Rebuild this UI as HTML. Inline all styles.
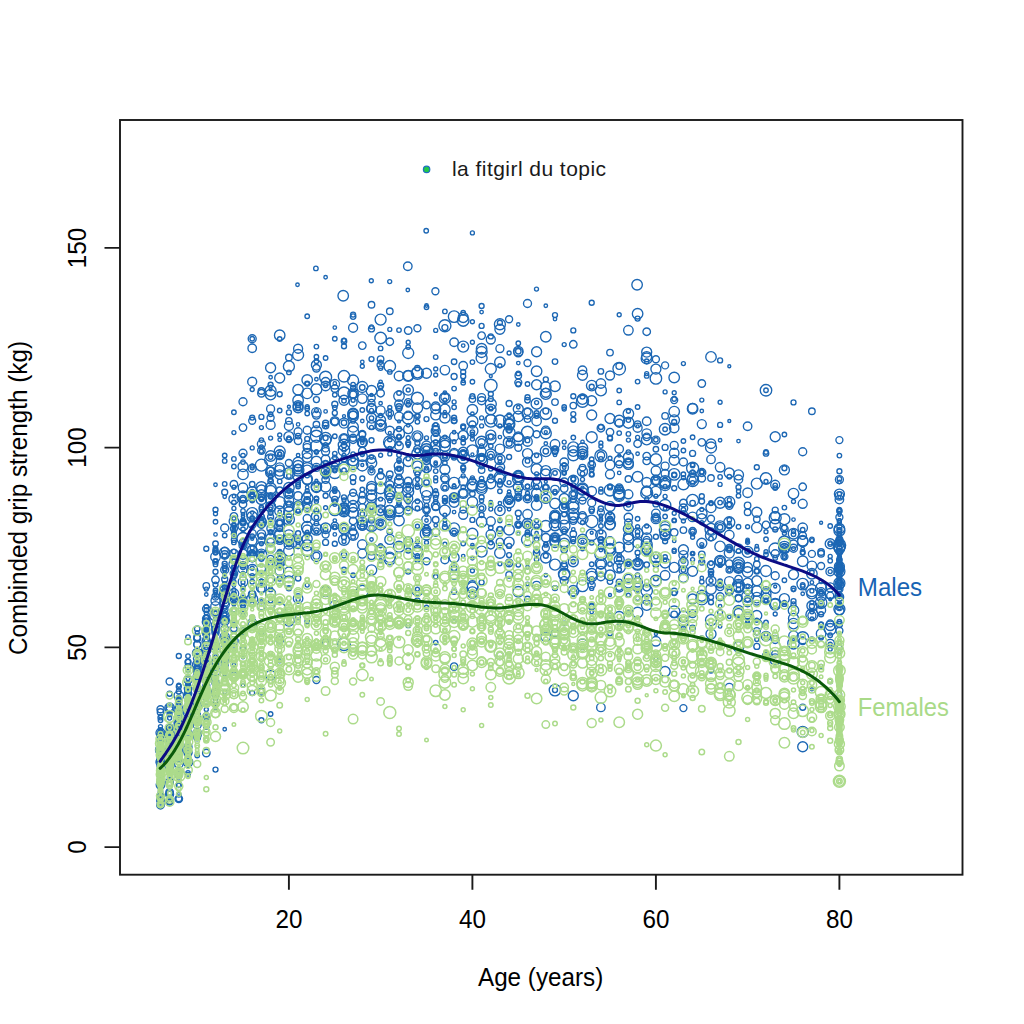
<!DOCTYPE html>
<html><head><meta charset="utf-8"><style>
html,body{margin:0;padding:0;background:#fff;}
svg{display:block;font-family:"Liberation Sans",sans-serif;}
</style></head><body>
<svg width="1024" height="1024" viewBox="0 0 1024 1024">
<defs>
<marker id="f10" markerUnits="userSpaceOnUse" markerWidth="1" markerHeight="1" overflow="visible"><circle r="2.50" fill="none" stroke="#acdb8b" stroke-width="1.5"/></marker>
<marker id="f11" markerUnits="userSpaceOnUse" markerWidth="1" markerHeight="1" overflow="visible"><circle r="2.75" fill="none" stroke="#acdb8b" stroke-width="1.5"/></marker>
<marker id="f12" markerUnits="userSpaceOnUse" markerWidth="1" markerHeight="1" overflow="visible"><circle r="3.00" fill="none" stroke="#acdb8b" stroke-width="1.5"/></marker>
<marker id="f13" markerUnits="userSpaceOnUse" markerWidth="1" markerHeight="1" overflow="visible"><circle r="3.25" fill="none" stroke="#acdb8b" stroke-width="1.5"/></marker>
<marker id="f14" markerUnits="userSpaceOnUse" markerWidth="1" markerHeight="1" overflow="visible"><circle r="3.50" fill="none" stroke="#acdb8b" stroke-width="1.5"/></marker>
<marker id="f15" markerUnits="userSpaceOnUse" markerWidth="1" markerHeight="1" overflow="visible"><circle r="3.75" fill="none" stroke="#acdb8b" stroke-width="1.5"/></marker>
<marker id="f16" markerUnits="userSpaceOnUse" markerWidth="1" markerHeight="1" overflow="visible"><circle r="4.00" fill="none" stroke="#acdb8b" stroke-width="1.5"/></marker>
<marker id="f17" markerUnits="userSpaceOnUse" markerWidth="1" markerHeight="1" overflow="visible"><circle r="4.25" fill="none" stroke="#acdb8b" stroke-width="1.5"/></marker>
<marker id="f18" markerUnits="userSpaceOnUse" markerWidth="1" markerHeight="1" overflow="visible"><circle r="4.50" fill="none" stroke="#acdb8b" stroke-width="1.5"/></marker>
<marker id="f19" markerUnits="userSpaceOnUse" markerWidth="1" markerHeight="1" overflow="visible"><circle r="4.75" fill="none" stroke="#acdb8b" stroke-width="1.5"/></marker>
<marker id="f20" markerUnits="userSpaceOnUse" markerWidth="1" markerHeight="1" overflow="visible"><circle r="5.00" fill="none" stroke="#acdb8b" stroke-width="1.5"/></marker>
<marker id="f21" markerUnits="userSpaceOnUse" markerWidth="1" markerHeight="1" overflow="visible"><circle r="5.25" fill="none" stroke="#acdb8b" stroke-width="1.5"/></marker>
<marker id="f22" markerUnits="userSpaceOnUse" markerWidth="1" markerHeight="1" overflow="visible"><circle r="5.50" fill="none" stroke="#acdb8b" stroke-width="1.5"/></marker>
<marker id="f23" markerUnits="userSpaceOnUse" markerWidth="1" markerHeight="1" overflow="visible"><circle r="5.75" fill="none" stroke="#acdb8b" stroke-width="1.5"/></marker>
<marker id="f24" markerUnits="userSpaceOnUse" markerWidth="1" markerHeight="1" overflow="visible"><circle r="6.00" fill="none" stroke="#acdb8b" stroke-width="1.5"/></marker>
<marker id="f25" markerUnits="userSpaceOnUse" markerWidth="1" markerHeight="1" overflow="visible"><circle r="6.25" fill="none" stroke="#acdb8b" stroke-width="1.5"/></marker>
<marker id="f26" markerUnits="userSpaceOnUse" markerWidth="1" markerHeight="1" overflow="visible"><circle r="6.50" fill="none" stroke="#acdb8b" stroke-width="1.5"/></marker>
<marker id="f6" markerUnits="userSpaceOnUse" markerWidth="1" markerHeight="1" overflow="visible"><circle r="1.50" fill="none" stroke="#acdb8b" stroke-width="1.5"/></marker>
<marker id="f7" markerUnits="userSpaceOnUse" markerWidth="1" markerHeight="1" overflow="visible"><circle r="1.75" fill="none" stroke="#acdb8b" stroke-width="1.5"/></marker>
<marker id="f8" markerUnits="userSpaceOnUse" markerWidth="1" markerHeight="1" overflow="visible"><circle r="2.00" fill="none" stroke="#acdb8b" stroke-width="1.5"/></marker>
<marker id="f9" markerUnits="userSpaceOnUse" markerWidth="1" markerHeight="1" overflow="visible"><circle r="2.25" fill="none" stroke="#acdb8b" stroke-width="1.5"/></marker>
<marker id="m10" markerUnits="userSpaceOnUse" markerWidth="1" markerHeight="1" overflow="visible"><circle r="2.50" fill="none" stroke="#1c67b4" stroke-width="1.35"/></marker>
<marker id="m11" markerUnits="userSpaceOnUse" markerWidth="1" markerHeight="1" overflow="visible"><circle r="2.75" fill="none" stroke="#1c67b4" stroke-width="1.35"/></marker>
<marker id="m12" markerUnits="userSpaceOnUse" markerWidth="1" markerHeight="1" overflow="visible"><circle r="3.00" fill="none" stroke="#1c67b4" stroke-width="1.35"/></marker>
<marker id="m13" markerUnits="userSpaceOnUse" markerWidth="1" markerHeight="1" overflow="visible"><circle r="3.25" fill="none" stroke="#1c67b4" stroke-width="1.35"/></marker>
<marker id="m14" markerUnits="userSpaceOnUse" markerWidth="1" markerHeight="1" overflow="visible"><circle r="3.50" fill="none" stroke="#1c67b4" stroke-width="1.35"/></marker>
<marker id="m15" markerUnits="userSpaceOnUse" markerWidth="1" markerHeight="1" overflow="visible"><circle r="3.75" fill="none" stroke="#1c67b4" stroke-width="1.35"/></marker>
<marker id="m16" markerUnits="userSpaceOnUse" markerWidth="1" markerHeight="1" overflow="visible"><circle r="4.00" fill="none" stroke="#1c67b4" stroke-width="1.35"/></marker>
<marker id="m17" markerUnits="userSpaceOnUse" markerWidth="1" markerHeight="1" overflow="visible"><circle r="4.25" fill="none" stroke="#1c67b4" stroke-width="1.35"/></marker>
<marker id="m18" markerUnits="userSpaceOnUse" markerWidth="1" markerHeight="1" overflow="visible"><circle r="4.50" fill="none" stroke="#1c67b4" stroke-width="1.35"/></marker>
<marker id="m19" markerUnits="userSpaceOnUse" markerWidth="1" markerHeight="1" overflow="visible"><circle r="4.75" fill="none" stroke="#1c67b4" stroke-width="1.35"/></marker>
<marker id="m20" markerUnits="userSpaceOnUse" markerWidth="1" markerHeight="1" overflow="visible"><circle r="5.00" fill="none" stroke="#1c67b4" stroke-width="1.35"/></marker>
<marker id="m21" markerUnits="userSpaceOnUse" markerWidth="1" markerHeight="1" overflow="visible"><circle r="5.25" fill="none" stroke="#1c67b4" stroke-width="1.35"/></marker>
<marker id="m22" markerUnits="userSpaceOnUse" markerWidth="1" markerHeight="1" overflow="visible"><circle r="5.50" fill="none" stroke="#1c67b4" stroke-width="1.35"/></marker>
<marker id="m23" markerUnits="userSpaceOnUse" markerWidth="1" markerHeight="1" overflow="visible"><circle r="5.75" fill="none" stroke="#1c67b4" stroke-width="1.35"/></marker>
<marker id="m24" markerUnits="userSpaceOnUse" markerWidth="1" markerHeight="1" overflow="visible"><circle r="6.00" fill="none" stroke="#1c67b4" stroke-width="1.35"/></marker>
<marker id="m25" markerUnits="userSpaceOnUse" markerWidth="1" markerHeight="1" overflow="visible"><circle r="6.25" fill="none" stroke="#1c67b4" stroke-width="1.35"/></marker>
<marker id="m26" markerUnits="userSpaceOnUse" markerWidth="1" markerHeight="1" overflow="visible"><circle r="6.50" fill="none" stroke="#1c67b4" stroke-width="1.35"/></marker>
<marker id="m6" markerUnits="userSpaceOnUse" markerWidth="1" markerHeight="1" overflow="visible"><circle r="1.50" fill="none" stroke="#1c67b4" stroke-width="1.35"/></marker>
<marker id="m7" markerUnits="userSpaceOnUse" markerWidth="1" markerHeight="1" overflow="visible"><circle r="1.75" fill="none" stroke="#1c67b4" stroke-width="1.35"/></marker>
<marker id="m8" markerUnits="userSpaceOnUse" markerWidth="1" markerHeight="1" overflow="visible"><circle r="2.00" fill="none" stroke="#1c67b4" stroke-width="1.35"/></marker>
<marker id="m9" markerUnits="userSpaceOnUse" markerWidth="1" markerHeight="1" overflow="visible"><circle r="2.25" fill="none" stroke="#1c67b4" stroke-width="1.35"/></marker>
<clipPath id="cp"><rect x="120" y="120" width="842.5" height="754.7"/></clipPath>
</defs>
<rect width="1024" height="1024" fill="#fff"/>
<g fill="none" stroke="none" clip-path="url(#cp)">
<path d="M252.2 538.8 701.8 560.9 197.2 674.4 729.3 421 830.2 599.2 160.5 755.1 839.4 497.1 325.6 427 371.5 394.9 160.5 777 243 590.4 188 703.1 197.2 688.5 399 421.4 490.8 376.1 509.1 503 215.5 656.4 362.3 465 206.3 671.7 169.6 733.1 619.2 455.6" marker-start="url(#m6)" marker-mid="url(#m6)" marker-end="url(#m6)"/>
<path d="M463.2 556.1 261.4 511.4 729.3 570.3 600.9 550 811.9 618.7 729.3 523.3 463.2 470.7 243 685.6 509.1 491.8 233.9 665.1 839.4 583.8 334.8 327.6 591.7 612 334.8 527.6 252.2 512.6 178.8 733.2 564.2 447.8 499.9 461.8 325.6 277.2 610 513 747.6 541.3 316.4 379.3 215.5 534.4 233.9 585.6 509.1 563.5 839.4 530.7 720.1 626.4 252.2 519.6 435.7 525.2 637.6 559.6 472.4 545.3 665.1 508.6 756.8 546.3 334.8 520.6 371.5 539.5 527.5 526.1 188 678.8 738.5 441.1 279.7 453.8 325.6 411.4 747.6 539.9 839.4 595.1 701.8 411 188 671 839.4 556.4 160.5 778.2 307.2 487.3 206.3 594.5 169.6 748.6 518.3 363.1 481.6 312.1 224.7 639.3 720.1 606.3 298.1 424.4 160.5 779.6 197.2 694.3 665.1 560.3 509.1 440 371.5 471 499.9 480.5 252.2 527.6 243 633.3 518.3 533.6 197.2 679.6 408.2 425.2 380.6 425.1 270.6 377.3" marker-start="url(#m7)" marker-mid="url(#m7)" marker-end="url(#m7)"/>
<path d="M839.4 652.2 197.2 699.4 435.7 424.6 169.6 734.5 628.4 440.1 490.8 476.2 270.6 438.1 435.7 480.9 481.6 425.9 426.5 542.5 160.5 776.9 582.5 522.5 233.9 518.6 261.4 447 472.4 434.3 206.3 672.8 334.8 502 692.6 533.9 261.4 543.7 646.7 499 344 529.5 160.5 796.8 591.7 588.4 353.1 400.2 435.7 375 252.2 491.4 536.6 402.6 839.4 568.5 775.2 614 454.1 495.1 252.2 553.5 444.9 520.1 637.6 526.8 344 500 325.6 385.6 169.6 779.9 454.1 401.9 509.1 353 169.6 746 582.5 479.4 509.1 622.1 444.9 515.2 701.8 544.6 408.2 390 499.9 509.3 766 600.1 389.8 407.5 665.1 486.5 444.9 524.2 839.4 562.8 215.5 592.1 417.4 526.2 197.2 632.7 380.6 387.7 197.2 670 261.4 451.2 362.3 454.5 169.6 749.6 839.4 557.3 839.4 596.6 811.9 602.6 325.6 476.9 307.2 490.8 206.3 613.1 279.7 660.8 490.8 456.2 830.2 644.2 160.5 748.7 711 573.3 766 634.2 747.6 550.9 573.3 541.7 316.4 410.6 839.4 533.1 279.7 577.3 215.5 701.9 591.7 474.4 261.4 584.1 224.7 674 206.3 659.8 389.8 477.6 197.2 707.6 490.8 509.1 747.6 622.8 692.6 464.8 288.9 437.9 444.9 400.2 380.6 560.7 454.1 486.4 188 670.4 417.4 589.2 692.6 537.3 472.4 342.3 371.5 427.4 600.9 538.6 839.4 493.9 426.5 437.9 747.6 542.2 188 682.8 408.2 444.3 160.5 765.7 444.9 415.9 243 519.8 600.9 446.2 426.5 527.1 490.8 408.2 793.5 640.6 536.6 455.6 178.8 738.9 178.8 715.3 472.4 321.8 224.7 593.3 646.7 373.6 178.8 712.6 481.6 417.9 371.5 326.9 261.4 498.3 555 493.1 784.4 602.5 490.8 505.2 243 609.6 536.6 473.9 839.4 551.4 178.8 759.4 830.2 649.1 839.4 581.1 224.7 655.8 160.5 766.4 233.9 530.3 536.5 289.1 839.4 520.7 628.4 411.3 683.4 521 178.8 732.1 307.2 585.1 766 652.8 197.2 698.5" marker-start="url(#m8)" marker-mid="url(#m8)" marker-end="url(#m8)"/>
<path d="M362.3 439.7 252.2 575.9 518.3 524.6 188 702.3 288.9 372.4 536.6 487.2 536.6 559.2 444.9 501.6 444.9 462.9 233.9 458.9 261.4 499.3 325.6 358 839.4 559.5 399 393 188 772.9 261.4 553.2 233.9 466.5 334.8 526.6 206.3 654.2 215.5 521.8 224.7 460.9 619.2 390.5 481.6 478.6 206.3 679 591.7 459.3 600.9 526 582.5 473.6 756.8 549.3 325.6 462.8 720.1 502.6 206.3 606.6 784.4 556.1 233.9 593.8 197.2 685.8 472.4 362.1 564.2 623.4 463.2 442.8 160.5 759.5 821.1 592.9 766 452 334.8 489 279.7 481.4 720.1 476.9 353.1 420.9 316.4 498.8 261.4 581.5 160.5 783.7 178.8 756.6 417.4 421.7 215.5 641 711 503 160.5 764.8 408.2 347 188 688.1 417.4 556 178.8 754.2 545.8 544.9 243 599.4 527.5 460.9 417.4 508.2 224.7 565.9 417.4 501.3 288.9 475.9 435.7 501.7 325.6 445 316.4 498.5 518.3 373.4 628.4 612.8 426.5 307.3 766 554.5 564.2 531.3 261.4 600.4 252.2 338.7 233.9 536 555 491.8 325.6 529.8 224.7 583.9 307.2 534.5 720.1 565.1 389.8 486.7 839.4 531.1 334.8 490.9 224.7 597.9 178.8 731.9 298.1 546.2 610 486.2 178.8 740.1 215.5 688.1 380.6 415.6 279.7 410.5 334.8 470 261.4 507.5 655.9 477.9 426.5 505.5 334.8 457.5 628.4 433.9 316.4 361.2 178.8 741.1 362.3 514 279.7 339 600.9 458.9 315.9 268.4 188 656.1 307.2 475.5 490.8 527.8 674.2 520.4 215.5 590.5 380.6 348.4 839.4 694.3 316.4 484.7 839.4 562.4 802.7 529.7 536.6 498.4 334.8 338.7 178.8 734.4 243 544.7 178.8 719.8 738.5 551 435.7 442.3 784.4 580.2 444.9 311.4 555 473 463.2 427.4 527.5 384 197.2 697.4 839.4 589.5 334.8 394.8 215.5 665.2 188 738.4 344 509.2 426.2 230.7 334.8 607.2 243 510.9 233.9 532.4 206.3 702 169.6 802 784.4 507.6 353.1 527.4 830.2 681.4 628.4 504.7 298.1 617 206.3 649.8 243 455.6 839.4 604 463.2 312.8 637.6 381.6 399 455 252.2 500.5 206.3 660 839.4 621.7 215.5 622.4 215.5 549.8 444.9 487.7 380.6 368.1 270.6 513.1 215.5 548.2 766 390.3 197.2 703.9 160.5 753.9" marker-start="url(#m9)" marker-mid="url(#m9)" marker-end="url(#m9)"/>
<path d="M233.9 534 160.5 779 839.4 530 555 420.7 573.3 396.3 729.3 526.3 793.5 402.4 490.8 436.6 573.3 330.4 811.9 606.3 674.2 475.3 573.3 485.4 555 588.1 169.6 751 288.9 412.4 371.5 527.7 573.3 478.6 206.3 657.1 252.2 494.5 206.3 548.8 362.3 478.5 610 633.2 261.4 720.3 288.9 519.5 591.7 474.5 821.1 614.2 509.1 457 665.1 541.3 206.3 630.5 334.8 543.8 738.5 565.4 344 569.7 188 736.6 224.7 555.8 243 610.2 160.5 760.9 839.4 510.5 738.5 487.2 206.3 691.8 839.4 571.9 674.2 474.6 839.4 538 720.1 585.4 261.4 521.1 353.1 387.9 362.3 438.8 610 487.4 206.3 627.2 243 521.7 224.7 563.7 573.3 419.8 160.5 730.1 821.1 624.9 160.5 717.4 490.8 394 720.1 612.3 224.7 568.1 738.5 585.1 252.2 617.7 555 538.2 610 437.7 711 597.2 169.6 761 692.6 531.5 454.1 591.8 279.7 552.7 720.1 560.6 784.4 548.2 270.6 563.1 169.6 693.7 536.6 415.8 527.5 534.6 298.1 407.6 344 537.2 224.7 600.9 188 661.7 435.7 451 839.4 547.3 270.6 507.3 243 522.9 417.4 559.8 564.2 506.8 720.1 424.9 288.9 588.3 509.1 555.1 600.9 427 215.5 571.8 188 702.3 720.1 360.4 307.2 438.9 444.9 501 160.5 762.1 674.2 488.2 178.8 738.4 711 602.3" marker-start="url(#m10)" marker-mid="url(#m10)" marker-end="url(#m10)"/>
<path d="M444.9 456.4 206.3 634.7 178.8 759.5 720.1 527.3 839.4 647.8 178.8 734.8 454.1 568 747.6 551.2 711 670.3 233.9 576.1 701.8 501.3 756.8 571.3 655.9 449.3 628.4 526.2 711 571.8 555 451.9 252.2 484.2 766 453.4 206.3 617.9 243 499.8" marker-start="url(#m11)" marker-mid="url(#m11)" marker-end="url(#m11)"/>
<path d="M160.5 743.4 224.7 639 261.4 497.2 518.3 513.3 261.4 517 178.8 798.8 160.5 785.3 756.8 646.4 444.9 327.6 619.2 582.1 545.8 411.1 509.1 443.3 821.1 604.3 839.4 624.5 435.7 433.4 169.6 802 325.6 542.4 454.1 376.5 270.6 516.9 344 458.9 160.5 734.1 252.2 596.8 591.7 606.3 224.7 492.2 197.2 677 353.1 477.6 160.5 762.3 325.6 423.3" marker-start="url(#m12)" marker-mid="url(#m12)" marker-end="url(#m12)"/>
<path d="M197.2 737.6 756.8 519.1 399 497.5 316.4 424.5 637.6 424.1 729.3 547.8 472.4 399.1 288.9 420.9 169.6 743.8 362.3 434.5 389.8 474.3 536.6 552.7 261.4 536.1 160.5 739.9 729.3 569.8 197.2 637.4 610 352.6 334.8 499.6 738.5 598.3 160.5 775.7 811.9 411.3 178.8 739.0" marker-start="url(#m13)" marker-mid="url(#m13)" marker-end="url(#m13)"/>
<path d="M426.5 533.4 298.1 539 472.4 481.3 655.9 516.8 215.5 632.9 243 598.8 206.3 685.8 334.8 466.6 224.7 616.3 435.7 426.4 444.9 479.4 307.2 507.9 518.3 524.5 435.4 291.3 518.3 382.6 564.2 566.9 830.2 623.4 839.4 551.8 518.3 447.8 169.6 745.3 197.2 638.6 784.4 556.6 178.8 707.4 325.6 474.4 215.5 647.1 252.2 497.9 233.9 528.8 325.6 534.5 518.3 475 536.6 434.2 426.5 561.3 619.2 464.3 353.1 492.7 224.7 665.6 344 438.1 261.4 540.5 490.8 479.2 481.6 457.5 380.6 475.8 243 630.5 545.8 487.7 325.6 448.4 527.5 363 252.2 420.7 564.2 530.4 224.7 550.6 683.4 708.1 674.2 400.1 756.8 631.1 509.1 500.8 839.4 539.6 169.6 681.5" marker-start="url(#m14)" marker-mid="url(#m14)" marker-end="url(#m14)"/>
<path d="M389.8 413.2 206.3 663 188 733 564.2 488.5 371.5 398.1 169.6 733.7 646.7 587.2 178.8 722.6 353.1 531.9 380.6 393.2 362.3 345.6 169.6 741.9 408.2 481 243 504.2 197.2 658.3 288.9 493.7 692.6 613.8 518.3 474.1 261.4 524.2 426.5 405 720.1 586.9 582.5 515.4 389.8 341.7 233.9 627.8 325.6 479.6 839.4 568.1 197.2 705.2 261.4 393.3 188 688.3 270.6 528.4 674.2 532.5 206.3 650.9 490.8 545.2 160.5 799.7 334.8 525.9 169.6 740.9 646.7 460.9 252.2 594.1 206.3 753 766 524.9" marker-start="url(#m15)" marker-mid="url(#m15)" marker-end="url(#m15)"/>
<path d="M619.2 423.3 701.8 472.5 435.7 532.3 307.2 445.3 444.9 559.8 454.1 497.9 252.2 338.7 408.2 510.3 243 545.4 353.1 402.2 169.6 735.7 665.1 466.1 197.2 725 665.1 473.5 188 706.7 197.2 676.2 775.2 639.5 243 542.7 270.6 578.9 839.4 479.6 243 401.7 169.6 728.8 261.4 444.1 197.2 688.6 353.1 415.2 206.3 622 655.9 440.1 224.7 619.7 591.7 502.7 839.4 570.7" marker-start="url(#m16)" marker-mid="url(#m16)" marker-end="url(#m16)"/>
<path d="M555 515.7 564.2 462.2 545.8 430.4 261.4 568.8 325.6 459.3 573.3 494.6 600.9 707.4 555 489.6 610 617.1 160.5 750.9 169.6 735.2 564.2 467.5 407.8 266.2 344 507.6 224.7 639.2 353.1 394 435.7 406.3 399 470.5 261.4 534.1 279.7 562.9 371.5 459.3 619.2 449 252.2 348.3 298.1 496 399 446.0" marker-start="url(#m17)" marker-mid="url(#m17)" marker-end="url(#m17)"/>
<path d="M637.6 543.2 288.9 425.9 821.1 610.2 270.6 424.9 756.8 600.6 600.9 564.2 325.6 471.5 738.5 613 738.5 548.5 408.2 498.3 270.6 548.4 545.8 498.8 839.4 585.1 334.8 421.2 408.2 541.3 454.1 574.9 637.6 587.5 252.2 381.7 252.2 623.1 279.7 454.3 646.7 549.8 399 508.9" marker-start="url(#m18)" marker-mid="url(#m18)" marker-end="url(#m18)"/>
<path d="M674.2 428 600.9 383.5 169.6 707.8 766 636.2 463.2 480.9 298.1 598.5 720.1 467.3 720.1 561.3 426.5 519.9 279.7 520.7 279.7 454.8 279.7 539.6 270.6 675.3 334.8 461.5 252.2 625.7 555 444.3 307.2 504.1 389.8 515.2 637.6 582.3 426.5 495.4 536.6 421 325.6 386 444.9 370.1 224.7 649.6 655.9 641.3 252.2 556.9 747.6 492.7 518.3 436.8 316.4 412.4 279.7 474.6 811.9 565.9 399 376 224.7 604 188 719.3 646.7 529.5" marker-start="url(#m19)" marker-mid="url(#m19)" marker-end="url(#m19)"/>
<path d="M821.1 596.5 655.9 369.1 270.6 367.7 435.7 408.7 261.4 490 536.6 384.8 408.2 375.7 830.2 543.8 628.4 464.4 371.5 418.1 344 400.3 270.6 506.9 243 525.7 564.2 507.3 518.3 487 729.3 473 224.7 589.9 738.5 474.9 610 548.5 545.8 470.6 270.6 472.4 738.5 587.3 389.8 539.4 591.7 400.8 261.4 522.5 362.3 441.9 307.2 470.1 454.1 557.6 316.4 487.6 766 593.7 793.5 618.4 490.8 435.1 417.4 550.4 628.4 528.9 472.4 486.8 435.7 414.9 426.5 456 215.5 670.6 499.9 329.2 362.3 525.2 573.3 561.8 288.9 436.6 619.2 559.7 564.2 498.5 775.2 436.7 463.2 452.2" marker-start="url(#m20)" marker-mid="url(#m20)" marker-end="url(#m20)"/>
<path d="M839.4 528.6 298.1 507.9 408.2 389.9 499.9 362.3 802.7 561.3 793.5 623.6 325.6 469.8 646.7 439.6 756.8 527.6 371.5 390.7 711 589 545.8 336.8 499.9 459.5 472.4 409.8 371.5 495.2 665.1 485.4 527.5 523.8 692.6 408.7 353.1 535.1 316.4 486.4 389.8 510.6 637.6 313.7 784.4 548.6 408.2 487.9 720.1 546.4 243 568.2 288.9 535.1 573.3 480.5 793.5 533.8 555 386.3 655.9 491.6 555 515.4 610 575.2 536.6 458.2 288.9 512 252.2 551 839.4 548.2 307.2 380 747.6 583.4 353.1 512.7 344 528.7 811.9 573.7" marker-start="url(#m21)" marker-mid="url(#m21)" marker-end="url(#m21)"/>
<path d="M545.8 433.3 711 620.1 252.2 599.1 316.4 389.3 646.7 547.6 637.6 564 573.3 591 399 546.8 380.6 488.3 481.6 551.6 279.7 561.8 288.9 519.4 316.4 431.4 344 539.8 417.4 372.4 711 535.4 591.7 574 408.2 375.9 490.8 404.1 298.1 475.6 701.8 595.7 444.9 398.2 766 571 270.6 498.3 573.3 455.3 619.2 547.7 472.4 533.8 444.9 445.8 261.4 487.2 747.6 551.9 344 511.3 353.1 380.5 417.4 453.4 655.9 580.7 472.4 431 536.6 532.6 738.5 567.8 555 517.8 408.2 491.8 490.8 454.5 252.2 556.1" marker-start="url(#m22)" marker-mid="url(#m22)" marker-end="url(#m22)"/>
<path d="M665.1 481.4 279.7 608.4 353.1 463.8 674.2 474.4 344 376.3 344 445 518.3 478.9 371.5 549.1 665.1 530.2 564.2 574 738.5 586.6 454.1 483.1 472.4 484.7 655.9 459.5 610 490.2 545.8 526.2 389.8 366.3 344 450.3 756.8 625.1 555 690.1 444.9 441.8" marker-start="url(#m23)" marker-mid="url(#m23)" marker-end="url(#m23)"/>
<path d="M701.8 598.9 692.6 480.6 417.4 373.2 499.9 421 481.6 461.3 325.6 377.2 307.2 468.6 270.6 459.9 600.9 554.4" marker-start="url(#m24)" marker-mid="url(#m24)" marker-end="url(#m24)"/>
<path d="M490.8 385.5 619.2 368.7 344 644.3 839.4 545.2 426.5 533.7 775.2 549.3" marker-start="url(#m25)" marker-mid="url(#m25)" marker-end="url(#m25)"/>
<path d="M821.1 522.7 701.8 546.5 720.1 565.7 729.3 366.2 389.8 432.9 582.5 541.6 692.6 553.2 444.9 502.6 839.4 605.6 655.9 634 188 708.8 233.9 601.4 215.5 668.7 334.8 491.7 233.9 649.6 499.9 472 582.5 457.3 169.6 753.1 839.4 514.8 811.9 689.2 582.5 487.6 270.6 472.1 288.9 406.7 619.2 624.1 610 595.0" marker-start="url(#m6)" marker-mid="url(#m6)" marker-end="url(#m6)"/>
<path d="M224.7 496.7 362.3 442.7 215.5 596.5 298.1 455.2 316.4 467 334.8 383.4 297.5 284.7 555 454.9 188 692 619.2 472.9 160.5 791.5 454.1 432.3 417.4 415.7 839.4 642.4 426.5 459.5 362.3 522.6 701.8 578 674.2 520.5 499.9 503.3 509.1 509.2 426.5 305.5 536.6 533.3 279.7 439.7 545.8 443.5 169.6 742.8 380.6 403.2 545.8 305.8 169.6 715.1 720.1 440.2 233.9 527.7 518.3 517.9 839.4 587.7 564.2 467.4 793.5 590 270.6 532.2 435.7 462.8 178.8 729.5 325.6 471.8 334.8 534.4 747.6 621 243 516.5 600.9 515.7 380.6 381.9 839.4 573.3 197.2 703.5 802.7 593.8 178.8 717.6 555 319.1 224.7 576.7 408.2 402.2 545.8 575.3 188 716.2 288.9 521.6 839.4 562.2 407.8 290 215.5 560.9 527.5 584 802.7 549.1 454.1 512.1 233.9 581.1 527.5 567.2 573.3 529.4 233.9 671.4 298.1 404.3 288.9 491.5 463.2 345.6 243 514.2 793.5 519.6 628.4 563.2" marker-start="url(#m7)" marker-mid="url(#m7)" marker-end="url(#m7)"/>
<path d="M160.5 731.7 252.2 547.9 711 503.5 215.5 513.7 747.6 526.8 160.5 731 169.6 738.5 316.4 451.6 784.4 550.3 197.2 720.5 481.6 445.9 545.8 499.5 169.6 718.1 371.5 457.2 389.8 329.4 362.3 366.3 701.8 509.4 793.5 501.5 215.5 647.8 160.5 765.7 839.4 542.6 197.2 679.6 784.4 557.7 793.5 531.5 389.7 281.6 279.7 558 261.4 581.2 426.5 607.2 811.9 590.9 472.4 439.1 600.9 531.9 665.1 534.8 178.8 696.9 619.2 314.8 665.1 496.4 298.1 511 224.7 608.3 270.6 479.7 279.7 435 380.6 499.1 839.4 543.2 766 481.5 233.9 620.4 233.9 590.1 665.1 478.9 206.3 709.5 206.3 641 435.7 369 243 582.3 472.4 232.9 380.6 362.3 178.8 685.2 380.6 455.2 206.3 715.7 674.2 550.1 389.8 453.9 463.2 439.3 215.5 627.1 839.4 522.6 444.9 455.7 206.3 651.7 252.2 466 399 504.9 270.6 519.8 600.9 443 444.9 437.1 701.8 522.7 298.1 599.4 188 761.1 655.9 496.2 261.4 427.6 738.5 491.2 701.8 472.1 683.4 477.8 178.8 703.5 793.5 548.6 224.7 692.1 839.4 578.7 169.6 741 839.4 576.6 233.9 596.9 766 551.7 233.9 593.1 426.5 455.2 426.5 468.1 178.8 753.8 233.9 566.5 215.5 707.6 252.2 494.9 509.1 425.5 270.6 497 169.6 729.5 454.1 441.7 518.3 498.9 802.7 553 674.2 392.7 637.6 562.9 600.9 489 839.4 520.7 206.3 696.8 536.6 520.7 582.5 548.7 564.2 409 389.8 511.7 371.3 280.8 215.5 592.7 610 458.2 188 728.2 839.4 559.2 499.9 426 720.1 402.3 564.2 473.2 545.8 543.9 408.2 342.3 839.4 575.6 655.9 659 380.6 470.9 188 718.4 674.2 513.2 701.8 400.1 316.4 501.4 334.8 504.3" marker-start="url(#m8)" marker-mid="url(#m8)" marker-end="url(#m8)"/>
<path d="M224.7 590 334.8 407.6 408.2 625.4 160.5 778.6 600.9 491.9 399 330.1 362.3 489.5 252.2 536.3 224.7 483.9 334.8 501.1 499.9 471.1 334.8 453.6 839.4 539.7 683.4 509.8 591.7 469.7 261.4 509.1 307.2 413.5 270.6 414.3 316.4 356.7 188 765 545.8 491.5 839.4 552.1 784.4 434.5 564.2 472.1 463.2 452.7 435.7 497.5 224.7 634.8 674.2 593.2 206.3 610 637.6 598.2 224.7 455.5 454.1 497.5 839.4 582.9 582.5 453.4 224.7 535.5 344 400.8 206.3 696.7 224.7 587.1 298.1 484.8 188 774.7 270.6 714 298.1 482.6 279.7 551.6 738.5 589.2 353.1 459.5 224.7 600.5 729.3 548.3 591.7 463.3 243 586.4 628.4 420.1 683.4 627.7 637.6 531.9 197.2 668.3 527.5 534.8 811.9 572.3 665.1 557 637.6 407 399 443.2 692.6 553.6 591.7 578.9 169.6 745.4 729.3 519.7 692.6 482.9 665.1 516.5 463.2 382.8 766 622.5 655.9 556.6 233.9 573.6 821.1 591.5 729.3 504.5 793.5 534.2 811.9 539.4 243 546.5 499.9 491.3 233.9 412.2 536.6 499.2 839.4 586.8 711 538.6 802.7 586.2 499.9 458.3 389.8 371.9 738.5 526.8 197.2 693.9 233.9 502.5 206.3 625.6 334.8 436.2 243 648.3 839.4 542.8 215.5 564.4 619.2 402.4 178.8 785.2 509.1 501.6 270.6 512.6 169.6 779.4 169.6 733.1 279.7 565.8 178.8 719.9 573.3 479.4 756.8 558.9 527.5 486.4 399 469.1 371.5 418.1 160.5 773 215.5 613.5 628.4 452.1 197.2 688.6 830.2 635.2 775.2 557.9 298.1 486.5 435.7 576.7 655.9 439.8 316.4 346.6 279.7 561.8 408.2 501.7 509.1 430.7 160.5 781.5 344 470.3 619.2 433.1 215.5 697.9 243 602.9 279.7 454.4 188 731.6 701.8 581.8 316.4 517.4 821.1 624.1 646.7 375.9 766 539.2 839.4 605 591.7 511.3 233.9 551.4 188 637.1" marker-start="url(#m9)" marker-mid="url(#m9)" marker-end="url(#m9)"/>
<path d="M784.4 468.2 215.5 769.6 188 723.9 371.5 440.3 701.8 496.3 527.5 397.3 564.2 514.3 188 703.1 188 751.3 270.6 496 481.6 306 610 518.7 472.4 519.9 472.4 396.3 555 690.1 839.4 511.2 545.8 487.3 591.7 386.7 756.8 467.2 288.9 544.3 417.4 442.9 160.5 741.5 197.2 681.2 371.5 359.1 472.4 595.8 334.8 412.9 243 605.5 178.8 784.5 224.7 618.4 839.4 548 252.2 417.6 197.2 682.4 206.3 686.3 188 733.8 252.2 693 325.6 495.7 362.3 526.4 637.6 552.8 261.4 416.9 821.1 601.4 261.4 558.7 499.9 322.8 399 429 499.9 529 160.5 733.3 610 438.4 169.6 713.8 270.6 384.8 215.5 647.8 463.2 371.9 839.4 526.8 490.8 398.9 655.9 536.7 711 574.7 215.5 584.6 582.5 396.6 839.4 471.2 802.7 552.3 169.6 752.9 499.9 484.8 518.3 497.3 408.2 571.6 279.7 578.6 454.1 457.6 197.2 675.6 655.9 578.2 178.8 700.1 793.5 604.4 325.6 438.1 279.7 394.3 417.4 474.1" marker-start="url(#m10)" marker-mid="url(#m10)" marker-end="url(#m10)"/>
<path d="M399 477 215.5 656 417.4 416.1 344 445.1 188 698.7 353.1 316.6 197.2 628.8 169.6 755.4 344 422.8 839.4 560 288.9 439.8 610 581.6 344 555.1 215.5 551.5 527.5 498.1 298.1 578.3 692.6 503.1 729.3 549.7 270.6 481.3 600.9 371.4 481.6 458.6 527.5 400.2 564.2 564.2 344 341.2 454.1 420.7 417.4 600.9 600.9 508.8 454.1 420.8 426.5 509.7 692.6 628 206.3 691.7 169.6 758.5 839.4 565 243 566.8 389.8 531.7 316.4 530.6 591.7 606.9 600.9 546.4 490.8 537.4" marker-start="url(#m11)" marker-mid="url(#m11)" marker-end="url(#m11)"/>
<path d="M197.2 714.8 243 564.8 279.7 528.5 527.5 599.2 169.6 752.8 600.9 539.7 188 666.7 334.8 404.2 509.1 403.5 188 662.1 307.2 499.8 665.1 447.4 224.7 579.2 362.3 494.9 178.8 735.3 655.9 503.9 839.4 543.5 775.2 510.1 243 602.9 380.6 385.5" marker-start="url(#m12)" marker-mid="url(#m12)" marker-end="url(#m12)"/>
<path d="M435.7 428.9 518.3 491.7 628.4 479 197.2 704.9 426.5 449.3 665.1 415.9 821.1 553.8 435.7 519.8 224.7 609.3 573.3 405.6 160.5 712 188 723.4 197.2 672.6 756.8 564.3 692.6 473.7 252.2 553.3 371.5 304.7 527.5 524.3 252.2 594 655.9 518.7 701.8 554.4 435.7 507.4 509.1 429.3 188 691.9 169.6 729.6 839.4 568.1 747.6 505.4 582.5 467.6 555 402.1 307.2 500.3 197.2 715.6 573.3 534.0" marker-start="url(#m13)" marker-mid="url(#m13)" marker-end="url(#m13)"/>
<path d="M160.5 801.5 839.4 589.2 178.8 716.9 233.9 629.7 766 655.8 417.4 328.2 169.6 761.6 527.5 411.8 178.8 728.3 316.4 680 582.5 500.5 178.8 774.9 206.3 633.8 362.3 433.9 197.2 669.8 178.8 720.1 839.4 440.1 821.1 566 839.4 517.2 499.9 530.1 197.2 644.6 490.8 454.9 600.9 512.4 169.6 709.5 380.6 364.9 197.2 678.1 674.2 591.8 775.2 654 197.2 698.2 197.2 700.6 270.6 417.7 665.1 365.4 362.3 507.1 206.3 639.4 243 499 261.4 589 197.2 680.4 169.6 794.8 655.9 359.2 811.9 553.9 169.6 707.2" marker-start="url(#m14)" marker-mid="url(#m14)" marker-end="url(#m14)"/>
<path d="M215.5 644.7 463.2 453.4 481.6 483.5 600.9 428.2 646.7 456.1 417.4 436.6 215.5 613.9 683.4 503 298.1 440.8 215.5 693.8 637.6 562.9 417.4 471 509.1 563 261.4 450.5 729.3 505.5 233.9 516.4 839.4 541.2 646.7 331.7 362.3 500.1 692.6 531.3 288.9 538 160.5 783.2 426.5 460.9 252.2 524.7 729.3 563.6 160.5 755.9 206.3 671.5 802.7 640.8 646.7 436.9 610 520.9 279.7 640.1 481.6 335.6 555 449.6 206.3 656.6 573.3 592.3 555 633 160.5 805.2 701.8 442.4 711 565 389.8 513.2 802.7 486.8 169.6 792.1 215.5 628.9 353.1 439.7 417.4 449.2 802.7 535.6 160.5 751.2 619.2 487.6 215.5 682.5 298.1 467.9" marker-start="url(#m15)" marker-mid="url(#m15)" marker-end="url(#m15)"/>
<path d="M316.4 467.4 600.9 576.8 793.5 544.1 307.2 447.6 610 540.8 188 752.3 426.5 455.4 811.9 615.5 499.9 348.6 316.4 415.1 720.1 596.8 683.4 462 252.2 468.4 793.5 548.3 224.7 569.8 426.5 529.2 353.1 508.1 444.9 487.1 389.8 484.7 444.9 397.3 188 746.9 839.4 582.8 270.6 542.3 169.6 755.8 481.6 397.6 463.2 493.2 252.2 533.6 481.6 400.8 160.5 760.7 188 722.1 279.7 522.9 307.2 430.2" marker-start="url(#m16)" marker-mid="url(#m16)" marker-end="url(#m16)"/>
<path d="M261.4 568.6 233.9 640.9 325.6 465.1 160.5 785.1 655.9 513.4 224.7 602.2 536.6 585.6 399 404.2 215.5 692.3 582.5 370.2 169.6 766.1 408.2 415.4 619.2 587.7 839.4 597.1 435.7 505.8 215.5 625.2 325.6 381.7 839.4 499.6 188 710.3 738.5 479.2 178.8 712.5 683.4 508.3 821.1 591.9 463.2 365.7 527.5 498.5 206.3 641.7" marker-start="url(#m17)" marker-mid="url(#m17)" marker-end="url(#m17)"/>
<path d="M628.4 494.3 839.4 610.5 481.6 451.8 371.5 408 518.3 352.3 380.6 410.4 261.4 520.9 701.8 424.1 463.2 514.8 399 480.2 270.6 471.4 435.7 430.9 215.5 600.7 683.4 555.1 371.5 425 252.2 549.4 610 375.5 298.1 348.7 334.8 605.1 509.1 499.5 490.8 339.5 408.2 429.1 362.3 553.6 279.7 467.4" marker-start="url(#m18)" marker-mid="url(#m18)" marker-end="url(#m18)"/>
<path d="M224.7 620.5 674.2 453 371.5 498.3 802.7 527.8 821.1 633.7 527.5 514.3 362.3 544.5 655.9 518.9 518.3 351.2 775.2 603.7 692.6 408.2 307.2 479.8 178.8 722.8 692.6 516.9 729.3 581.4 683.4 577.6 444.9 442.9 711 443.7 444.9 456.3 243 487.8 224.7 637 197.2 664.8 628.4 330.3 839.4 544.1 646.7 482.3 224.7 593.5 307.2 457.5 490.8 534.5 197.2 653.2 839.4 568 683.4 562.5 610 516.8 399 483.1 435.7 438.1 371.5 486.2 454.1 453.3" marker-start="url(#m19)" marker-mid="url(#m19)" marker-end="url(#m19)"/>
<path d="M233.9 564.2 188 711.9 279.7 378 417.4 466.1 371.5 408.7 610 524.9 573.3 695.7 399 511.5 261.4 494.8 536.6 493.2 160.5 750.1 389.8 495.2 298.1 407.8 802.7 746.7 454.1 497.8 811.9 605.7 683.4 621.9 380.6 420.2 344 423.1 665.1 671.5 646.7 356.6 243 466.6 490.8 483.7 279.7 533.6 362.3 525.1 463.2 493.4 582.5 539.2 463.2 435.5 729.3 553.1 674.2 460.2 481.6 485.2 756.8 580.8 720.1 527.6 683.4 549.8 582.5 543.1 674.2 567.4 307.2 551.4 747.6 589.2 784.4 598.6 233.9 499.1 711 633.9 793.5 574.5 775.2 588.2 610 506.5 270.6 538.5 756.8 512.3 509.1 424.2 279.7 525.4" marker-start="url(#m20)" marker-mid="url(#m20)" marker-end="url(#m20)"/>
<path d="M793.5 493.6 582.5 399.1 499.9 478.9 252.2 492 325.6 528.3 371.5 507.1 628.4 413.8 288.9 487.8 591.7 576.6 298.1 389.7 793.5 610.4 353.1 413.5 637.6 612.5 747.6 572 288.9 493.6 674.2 377.5 692.6 478.5 655.9 557.4 811.9 593.6 481.6 521.8 536.6 371.2 444.9 409.4 490.8 439.1 518.3 591.7 573.3 517.2 344 510 261.4 554.4 344 467.5 353.1 393.4 646.7 491.1 343.2 295.7 371.5 570.1 600.9 571.6 738.5 610.7 802.7 540.7 279.7 335.2 637.6 533.2 490.8 409.5 628.4 539.2 270.6 394.6 499.9 510.4 371.5 489 802.7 541.5 830.2 593.7 224.7 552.7 353.1 416.2 582.5 451.7 270.6 456 637.6 476.7" marker-start="url(#m21)" marker-mid="url(#m21)" marker-end="url(#m21)"/>
<path d="M399 433.7 527.5 413.5 389.8 491.3 298.1 355 619.2 494.7 555 564.6 481.6 489 683.4 484.3 279.7 470.6 417.4 505.5 481.6 487 821.1 588.1 288.9 581.5 417.4 590.5 756.8 483.6 729.3 522.3 839.4 571.3 729.3 502 802.7 731.9 545.8 393.9 481.6 358 252.2 570 582.5 489.7 481.6 352 380.6 319.6 472.4 586.3 463.2 346.6 784.4 519.2 536.6 469.3 417.4 436.4 564.2 574.8 472.4 421.2 646.7 544.3 316.4 556 619.2 496 353.1 431.8 499.9 324.3 380.6 550.6 720.1 560.9 720.1 502.8 628.4 422.7 444.9 510.6 279.7 557 408.2 353 545.8 451.1 720.1 526.4 389.8 444 435.7 445.6 582.5 519.0" marker-start="url(#m22)" marker-mid="url(#m22)" marker-end="url(#m22)"/>
<path d="M582.5 585.9 784.4 547.1 793.5 643.2 215.5 615.2 665.1 505.2 821.1 602.7 435.7 461.5 509.1 502.1 380.6 338 463.2 320.5 600.9 563.3 655.9 378.4 738.5 565.5 334.8 509.9 298.1 470.3 674.2 611.7 564.2 518.1 252.2 513.4 775.2 604.1 573.3 514.2 665.1 429.2 610 550.4 555 474.4 509.1 442.4" marker-start="url(#m23)" marker-mid="url(#m23)" marker-end="url(#m23)"/>
<path d="M692.6 468.3 316.4 436.2 279.7 502.6 582.5 401.2 738.5 563.2 509.1 432.8 444.9 325.7 802.7 637.7 619.2 492.8 747.6 596.4 600.9 455.7 243 538.5 279.7 536.2 692.6 500.4 711 529.4 527.5 432.2 261.4 465.1 481.6 442.2 243 497.0" marker-start="url(#m24)" marker-mid="url(#m24)" marker-end="url(#m24)"/>
<path d="M389.8 442.1 389.8 511.6 463.2 457.3 490.8 420.9 426.5 490.6 334.8 472.3 509.1 480.9 619.2 566.8 564.2 540.6" marker-start="url(#m25)" marker-mid="url(#m25)" marker-end="url(#m25)"/>
<path d="M426.5 450.3" marker-start="url(#m26)" marker-mid="url(#m26)" marker-end="url(#m26)"/>
<path d="M270.6 389.3 169.6 732.7 545.8 481.8 169.6 731.2 243 547.4 775.2 586.5 224.7 651.1 206.3 697.5 637.6 556.5 426.5 515.1 178.8 726.9 261.4 518.7 637.6 426.4 169.6 756.7 206.3 657.4 316.4 480.7 545.8 432.1 472.4 454.4 591.7 532.8 454.1 485.2 444.9 411.9 325.6 473.3 344 416.1 243 657.3 435.7 394.2 683.4 629.7 408.2 446.1 178.8 732 399 469.0" marker-start="url(#m6)" marker-mid="url(#m6)" marker-end="url(#m6)"/>
<path d="M215.5 628.5 224.7 573.9 160.5 716.2 389.8 410.8 839.4 558 472.4 547.2 279.7 511.7 215.5 484.8 243 573.2 683.4 557.9 674.2 540.9 316.4 532.3 692.6 471.7 472.4 436.3 252.2 528.1 747.6 586.2 371.5 507.7 472.4 558.3 839.4 608 160.5 780.7 160.5 786.2 619.2 489.4 839.4 541 206.3 669.6 839.4 482 839.4 543.1 435.7 464.1 389.8 413.9 224.7 729.2 444.9 392.8 637.6 453.7 362.3 421 389.8 417.6 811.9 582.4 417.4 484.5 499.9 437.1 206.3 631.6 380.6 524.3 298.1 503.5 463.2 380.9 389.8 448.3 600.9 520.5 197.2 676.8 720.1 584.6 490.8 502.2 582.5 441.9 600.9 518.7 729.3 616.8 518.3 407.2 160.5 743.7 426.5 520.5 233.9 496.3 206.3 675.4 399 461.8 243 563.2 188 709 270.6 508.9 362.3 361.9 472.4 413.7 518.3 324.5 243 628.1 307.2 532.0" marker-start="url(#m7)" marker-mid="url(#m7)" marker-end="url(#m7)"/>
<path d="M178.8 779.1 499.9 563.7 178.8 778.4 499.9 365.8 197.2 736.3 830.2 542.9 811.9 540.6 344 455.5 178.8 728.1 270.6 601 197.2 655.1 160.5 755.4 839.4 568.3 224.7 570 839.4 537.9 206.3 677.6 261.4 581.1 766 531.8 811.9 638.9 233.9 581.9 839.4 509.4 619.2 565.6 435.7 490.8 233.9 603.8 197.2 672.8 334.8 470.1 839.4 562 233.9 487.3 564.2 344.6 160.5 743.6 233.9 524.4 628.4 564.4 252.2 389.5 188 691.4 821.1 581.5 344 541.4 637.6 437.4 197.2 687.2 334.8 470.7 509.1 482.6 288.9 489.9 665.1 391.9 178.8 720.9 298.1 542.6 371.5 467.8 463.2 437.7 472.4 477.9 233.9 432.6 380.6 510.7 224.7 645.8 252.2 467.8 628.4 595.3 215.5 619 408.2 437.7 224.7 614.5 261.4 601.8 169.6 737.4 527.5 493.3 325.6 507.8 417.4 479.5 160.5 726.6 729.3 499.9 417.4 542 674.2 551.4 435.7 330.4 279.7 540.4 481.6 500.8 463.2 475.9 243 598.1 564.2 442.1 206.3 589.1 830.2 571.6 720.1 484.4 188 727.3 646.7 526 646.7 553.9 490.8 408.9 399 436.2 344 340.2 380.6 545.8 160.5 752.5 463.2 458.4 564.2 464.8 839.4 575.7 408.2 508.6 371.5 410.4 178.8 716.1 344 450.1 206.3 718 399 496.6 766 601.2 472.4 570.8 169.6 773.8 252.2 447.9 206.3 660.1 821.1 666.4 683.4 363.6 591.7 582.3 215.5 645 243 615.2 188 723.2 830.2 556.4 756.8 620.2 169.6 744.7 784.4 533.3 215.5 634 711 580.6 435.7 477.7 756.8 639.5 252.2 568.2 444.9 544.3 224.7 618.7 454.1 620.7 188 709 380.6 470.5 233.9 508.4 307.2 383.8 316.4 452.2 197.2 663.2 692.6 559.6 499.9 520.8 637.6 535.2 188 684.0" marker-start="url(#m8)" marker-mid="url(#m8)" marker-end="url(#m8)"/>
<path d="M417.4 487 509.1 415.2 665.1 429.3 197.2 706.2 683.4 450.5 821.1 637.8 573.3 437.5 591.7 467.6 527.5 486.5 435.7 471.1 233.9 559.6 481.6 508.3 756.8 632.8 417.4 450.7 839.4 581.1 481.6 466.6 261.4 440.1 555 448.7 362.3 410 591.7 542.7 169.6 742.4 536.6 497 435.7 642.6 371.5 511.8 811.9 611.6 518.3 343.2 527.5 497.2 353.1 575.2 527.5 532.2 573.3 487.9 610 564 399 503.2 408.2 404.7 160.5 787.8 188 692.4 233.9 542.4 252.2 581.7 729.3 476.8 353.1 536.9 178.8 718.1 490.8 468.7 692.6 465.4 573.3 561.7 637.6 575.1 206.3 633.5 188 719.9 188 745.1 830.2 526 215.5 646.6 243 611.2 243 462.1 270.6 589.4 252.2 604.3 637.6 518.7 509.1 494.9 472.4 381.7 408.2 488.9 307.2 316.2 518.3 564.8 454.1 532.7 261.4 526 279.7 564.1 463.2 487.3 637.6 579.8 160.5 792.1 362.3 438.9 307.2 621.3 197.2 719.6 830.2 544.1 188 760.9 463.2 543.5 683.4 474.3 738.5 495.8 252.2 518.8 701.8 638.3 775.2 488.1 711 563.1 270.6 457.1 261.4 632.8 243 529.2 233.9 572.5 463.2 457.7 233.9 525.5 463.2 467 408.2 495.7 169.6 729.1 683.4 570 169.6 777.1 683.4 560.9 564.2 407 160.5 763.2 536.6 539.3 270.6 476.8 252.2 517.9 215.5 552.8 619.2 554.9 160.5 720.2 756.8 571.1 839.4 455.6 454.1 407.3 490.8 542.6 490.8 445.9 472.4 432.1 720.1 581.2 591.7 564.2 683.4 441 178.8 794.7 188 717.5 830.2 560.8 399 460 692.6 437.3 353.1 454.1 307.2 408.5 316.4 523.4 839.4 534.2 160.5 748.9 261.4 553.9 197.2 715.8 169.6 737.7 527.5 440.4 674.2 399 454.1 388.6 389.8 439.5 802.7 584.9 178.8 718.6 839.4 478.9 408.2 458.5 600.9 541.4 344 510.4 408.2 485.3 178.8 743.4 169.6 752 435.7 357.1 197.2 685.8 683.4 560.1 775.2 485.4" marker-start="url(#m9)" marker-mid="url(#m9)" marker-end="url(#m9)"/>
<path d="M188 691.3 775.2 529.5 215.5 627.6 206.3 623.2 573.3 539 160.5 794.6 399 437.2 188 716.8 353.1 482.1 536.6 413.2 178.8 729.8 408.2 443 178.8 700.8 316.4 511.3 233.9 609.5 426.5 470.2 701.8 471.9 490.8 336.4 389.8 449.1 178.8 712.4 793.5 588.7 839.4 543.7 536.6 550.8 188 724.5 784.4 603.9 160.5 736.1 270.6 532.3 444.9 497.9 839.4 568 178.8 691.4 545.8 379.4 463.2 426.5 481.6 325.9 344 346.2 206.3 679.5 178.8 753.1 206.3 658.5 463.2 376.3 224.7 601.1 215.5 647.1 426.5 419.1 178.8 656 545.8 555.8 463.2 468.3 233.9 568 206.3 716.1 518.3 384.3 279.7 540.2 454.1 417.8 197.2 687.8 353.1 314.6 573.3 414.1 481.6 497.3 793.5 601.1 169.6 760.8 160.5 777.8 160.5 795.7 233.9 539.9 233.9 645.9 619.2 559.2 729.3 591.7 178.8 686.5 839.4 572.4 408.2 550.5 444.9 527.3 481.6 515 481.6 582.4 555 315.1 344 497.4 637.6 318.6 573.3 494 591.7 302.8 307.2 383.6 536.6 526.4 298.1 533.3 674.2 422 206.3 665.7 160.5 786.6 206.3 698.2 288.9 504.4 509.1 545.9 518.3 525.4 188 685.1 215.5 509.8 197.2 692.5 206.3 617.7 564.2 504.9" marker-start="url(#m10)" marker-mid="url(#m10)" marker-end="url(#m10)"/>
<path d="M545.8 451.2 839.4 570.8 839.4 575.8 215.5 543.7 206.3 726.6 298.1 436.1 555 361.6 426.5 482.5 197.2 667.9 298.1 404.9 178.8 744.2 417.4 368.1 591.7 509.4 362.3 387.5 784.4 527.7 399 408.7 178.8 746 454.1 361.7 206.3 626.6 178.8 723.1 188 724.7 646.7 564.7 188 719.8 628.4 562 169.6 756.9 518.3 351.2 472.4 493.8 233.9 597.8 279.7 636.9 380.6 523.3 215.5 561.4 279.7 522.9" marker-start="url(#m11)" marker-mid="url(#m11)" marker-end="url(#m11)"/>
<path d="M655.9 564.2 206.3 634.8 610 620.2 747.6 598.6 435.7 494.3 371.5 328.9 692.6 453.4 573.3 499.6 178.8 722.9 701.8 562.1 839.4 583.1 188 721.4 802.7 707.3 628.4 461.6 316.4 399.6" marker-start="url(#m12)" marker-mid="url(#m12)" marker-end="url(#m12)"/>
<path d="M243 522.3 426.5 458.2 224.7 661.9 399 407 674.2 614.4 325.6 425.6 279.7 490.3 325.6 642.4 206.3 585.9 288.9 357.5 509.1 574.9 261.4 691.8 711 478 371.5 519.8 481.6 470.1 821.1 552 178.8 699.8 160.5 783.4 188 737.1 261.4 391 380.6 359.1 711 531.1 197.2 637.2 527.5 419.1 206.3 716.1 233.9 674.4 747.6 512.3 389.8 311.3 683.4 530.1 619.2 366.1 518.3 375.5 197.2 662.9 178.8 750.9 463.2 509.7 619.2 587.1 839.4 564.9" marker-start="url(#m13)" marker-mid="url(#m13)" marker-end="url(#m13)"/>
<path d="M472.4 424.5 307.2 494.8 160.5 709.2 545.8 548 426.5 499.9 188 747.6 160.5 770.1 591.7 584.9 353.1 394.5 215.5 631.2 646.7 539.9 169.6 782.5 215.5 663 215.5 596.5 481.6 442.3 389.8 496.7 509.1 319.2 160.5 766.1 197.2 696.5 371.5 402.9 353.1 437.7 711 518.8 197.2 644.4 316.4 555.8 233.9 599.3 243 631.1 536.6 480.8 555 524.3 766 590.1 747.6 615.3 839.4 630.8 169.6 761.2 839.4 597.6 178.8 775.2 206.3 668.1 188 693.1 839.4 607.1 288.9 517.2 830.2 595.6 197.2 677.9 270.6 558.9 188 680.4 655.9 480.9 334.8 421.5 371.5 471.4 288.9 463 197.2 678.6 692.6 480.1" marker-start="url(#m14)" marker-mid="url(#m14)" marker-end="url(#m14)"/>
<path d="M206.3 618.6 233.9 560.1 197.2 705.9 518.3 497.2 178.8 798.8 426.5 510 628.4 522.7 243 427.6 188 721.1 169.6 782.2 215.5 579.8 454.1 666.6 270.6 470.8 499.9 470.4 353.1 520.9 701.8 383.5 573.3 344.3 701.8 478.3 591.7 464.7 499.9 541.9 499.9 655.9 573.3 520.6 160.5 734.8 371.5 555.8 233.9 484.2 188 693.6 408.2 402.4 188 753.2 637.6 443.7 600.9 455.5 362.3 451 738.5 598 224.7 628.6 738.5 579.1 316.4 368.3 408.2 330.5 334.8 388.5 784.4 528.9 215.5 661.7 426.5 531.9 610 432.1 169.6 744.6 233.9 573.6" marker-start="url(#m15)" marker-mid="url(#m15)" marker-end="url(#m15)"/>
<path d="M362.3 443.4 729.3 687.4 224.7 528 169.6 750.3 399 489.1 564.2 580.6 169.6 766.2 307.2 518.5 169.6 794.2 454.1 532.3 243 453.3 738.5 568.6 197.2 735.1 298.1 431.8 628.4 578.4 775.2 553.7 188 679.6 206.3 645.8 527.5 303.5 674.2 445.4 169.6 757.7 169.6 732.4 775.2 575.7 160.5 784.3 178.8 743.6 270.6 408.9 325.6 451.6 261.4 605.9 729.3 591.6 197.2 668.9" marker-start="url(#m16)" marker-mid="url(#m16)" marker-end="url(#m16)"/>
<path d="M224.7 657.6 444.9 477.7 545.8 537.8 197.2 733.1 646.7 421.3 224.7 555 454.1 342.2 683.4 570.3 178.8 750.4 481.6 507.9 628.4 517.5 830.2 643.6 564.2 482.3 619.2 489.5 839.4 495.9 711 459.4 178.8 763.8 233.9 553.6 169.6 752.2 830.2 571.6 747.6 426.2" marker-start="url(#m17)" marker-mid="url(#m17)" marker-end="url(#m17)"/>
<path d="M169.6 754.6 830.2 587.4 178.8 725.1 454.1 454.1 610 474.3 399 416.6 775.2 516.1 637.6 427.7 784.4 548.6 389.8 430.7 454.1 436.4 628.4 583.4 802.7 503.8 490.8 521.3 683.4 515.3 701.8 518.2 160.5 732.8 775.2 484.8 610 517.3 747.6 602.2 362.3 513.6 224.7 615.6 582.5 453.7 160.5 762.1 545.8 392.8 279.7 571.1" marker-start="url(#m18)" marker-mid="url(#m18)" marker-end="url(#m18)"/>
<path d="M380.6 502.4 499.9 448.9 591.7 491.2 334.8 384.3 206.3 649.9 435.7 450.3 169.6 733.5 298.1 469.1 178.8 695.8 665.1 526.4 426.5 445.8 399 466 793.5 635.8 830.2 625.8 628.4 506 215.5 556.9 380.6 424.7 545.8 636.7 646.7 433.6 729.3 535 288.9 544.4 362.3 521.6 252.2 540.6 224.7 590.5 610 464.9 243 581.9 252.2 557 628.4 536.2 288.9 500.3 233.9 521.3 215.5 606.4 665.1 575.3 233.9 593.5 490.8 419.1 499.9 467.3 655.9 480.5 307.2 529.8 555 537.4 417.4 481.9 655.9 470.8 362.3 398.6" marker-start="url(#m19)" marker-mid="url(#m19)" marker-end="url(#m19)"/>
<path d="M527.5 453.6 463.2 317.5 628.4 546.9 582.5 375.2 655.9 480.3 307.2 453.5 454.1 502.2 839.4 566.4 279.7 511 261.4 587.7 610 418.5 701.8 543.2 307.2 538.7 555 542.5 711 507.6 536.6 351.7 344 438.7 692.6 571.3 711 581.1 628.4 462.9 692.6 599 628.4 457 426.5 373.2 270.6 593.4 665.1 563 591.7 415 408.2 461.5 839.4 494.1 646.7 352.1 426.5 467.6 243 554.3 665.1 534.2 316.4 365.1 316.4 516.3 518.3 409 619.2 460.5 665.1 535.6 756.8 615.5 362.3 456.4 444.9 469.5 784.4 469.9 610 548.9 509.1 542.1 582.5 471.4 646.7 599.3 270.6 506.7 747.6 567.5 298.1 405.7 527.5 462.1 766 598.0" marker-start="url(#m20)" marker-mid="url(#m20)" marker-end="url(#m20)"/>
<path d="M756.8 597.6 499.9 553 298.1 543.2 582.5 448.2 674.2 420.1 353.1 414.2 288.9 572.4 298.1 462.5 380.6 510.3 307.2 393.4 674.2 411.6 316.4 461.5 665.1 483.5 536.6 505.1 288.9 620.7 389.8 557.4 325.6 440.2 417.4 408.1 444.9 417.8 298.1 400.2 288.9 550.8 481.6 458.6 325.6 471.8 536.6 484.4 371.5 462.9 646.7 538.1 472.4 502 252.2 516.8 646.7 605.1 564.2 543.5 545.8 387.1 399 520.6 206.3 678 481.6 348.7 582.5 454.4 555 503.5 738.5 646.9 518.3 416.4 600.9 535 711 356.9 261.4 499.3 701.8 513.6 555 540.4 545.8 557.7 573.3 451.1 325.6 591.2 298.1 465.7 353.1 426.9 325.6 486.7 637.1 284.7 334.8 494.4 775.2 524.7 307.2 479 582.5 644.2 399 396.1 509.1 529.8 243 474.4 591.7 385.6 619.2 616.7" marker-start="url(#m21)" marker-mid="url(#m21)" marker-end="url(#m21)"/>
<path d="M839.4 530.6 353.1 460.3 509.1 419.7 600.9 390.4 224.7 595.3 610 524 288.9 539.4 536.6 403.7 344 508.3 839.4 609.1 298.1 506.6 362.3 387 472.4 587.6 307.2 545.3 362.3 465.5 545.8 474.5 619.2 420.8 683.4 616.6 472.4 592.4 490.8 369 646.7 358.5 270.6 390.8 417.4 552.5 711 447.5 279.7 451.5 353.1 498.3 380.6 524.5 371.5 526.2 261.4 547.3 288.9 366.4 839.4 583.2 454.1 528.4 591.7 437.2 573.3 447.4 573.3 504.9 518.3 476.2 775.2 659.4" marker-start="url(#m22)" marker-mid="url(#m22)" marker-end="url(#m22)"/>
<path d="M288.9 473.5 573.3 507.8 555 525 591.7 534.8 380.6 425.4 545.8 413.7 766 478.5 766 390.3 270.6 491.3 637.6 564.4 802.7 584.1 839.4 547.1 389.8 559.1 307.2 527.3 307.2 498.6 316.4 529.4 564.2 525.9 582.5 488.7 509.1 424.3 270.6 488.5 454.1 316.6 380.6 479.3 646.7 590.8 830.2 629.3" marker-start="url(#m23)" marker-mid="url(#m23)" marker-end="url(#m23)"/>
<path d="M646.7 492.9 344 393 811.9 590.6 325.6 438.4 417.4 398.2 784.4 542 811.9 614.8 316.4 446.1 408.2 418.1 518.3 439.2 362.3 591.2 738.5 585.4 472.4 450.9 527.5 539.6 775.2 517.7" marker-start="url(#m24)" marker-mid="url(#m24)" marker-end="url(#m24)"/>
<path d="M591.7 521.4 527.5 484.0" marker-start="url(#m25)" marker-mid="url(#m25)" marker-end="url(#m25)"/>
<path d="M582.5 494.3" marker-start="url(#m26)" marker-mid="url(#m26)" marker-end="url(#m26)"/>
<path d="M839.4 556.4" marker-start="url(#m7)" marker-mid="url(#m7)" marker-end="url(#m7)"/>
<path d="M307.2 406.8 839.4 605.5" marker-start="url(#m8)" marker-mid="url(#m8)" marker-end="url(#m8)"/>
<path d="M197.2 755.5 619.2 569.7 646.7 361.3 353.1 384.6 389.8 500.6" marker-start="url(#m9)" marker-mid="url(#m9)" marker-end="url(#m9)"/>
<path d="M564.2 549.6" marker-start="url(#m13)" marker-mid="url(#m13)" marker-end="url(#m13)"/>
<path d="M206.3 608.8" marker-start="url(#m15)" marker-mid="url(#m15)" marker-end="url(#m15)"/>
<path d="M802.7 451.8 555 537.5" marker-start="url(#m16)" marker-mid="url(#m16)" marker-end="url(#m16)"/>
<path d="M353.1 327.7" marker-start="url(#m18)" marker-mid="url(#m18)" marker-end="url(#m18)"/>
<path d="M188 762.1 527.5 441.5 362.3 442.6" marker-start="url(#m19)" marker-mid="url(#m19)" marker-end="url(#m19)"/>
<path d="M288.9 506.3 756.8 591.0" marker-start="url(#m21)" marker-mid="url(#m21)" marker-end="url(#m21)"/>
<path d="M353.1 506.0" marker-start="url(#m22)" marker-mid="url(#m22)" marker-end="url(#m22)"/>
<path d="M499.9 477.2" marker-start="url(#m23)" marker-mid="url(#m23)" marker-end="url(#m23)"/>
<path d="M738.5 650.5 252.2 617.8 527.5 589.9 261.4 669.3 243 617.3 389.8 644 591.7 578.9 206.3 688.8 197.2 754.7 637.6 638.8 509.1 621.1 380.6 589.7 197.2 686.8 839.4 765.1 261.4 593.6 839.4 659.9 655.9 654.8 701.8 641 169.6 750.7 362.3 510.5 646.7 695.3 252.2 609.4 481.6 606.5 160.5 780.4 224.7 698.9 178.8 712.2 178.8 750.5 408.2 654.2 380.6 649.2 279.7 681.5 692.6 588.7" marker-start="url(#f6)" marker-mid="url(#f6)" marker-end="url(#f6)"/>
<path d="M582.5 633.6 224.7 678.9 316.4 646.7 197.2 716.2 362.3 631.5 371.5 571.9 463.2 584.8 399 610.3 197.2 696.1 252.2 618 252.2 599.9 215.5 684 252.2 665.4 215.5 705.7 729.3 702.6 169.6 744.6 325.6 554.6 527.5 562.9 527.5 621.9 279.7 635.9 839.4 632.9 711 634.1 655.9 679.3 399 605.7 261.4 670.9 463.2 582.8 344 635.5 674.2 538.3 270.6 682.1 188 713.3 417.4 539.1 344 593.1 472.4 591.1 711 636.5 261.4 654 839.4 719.9 353.1 619.5 371.5 679.1 683.4 560.5 747.6 687.1 243 634.1 224.7 630.9 243 655.8 408.2 587 417.4 602 802.7 668.2 839.4 745.3 353.1 581.6 279.7 688.5 646.7 596.5 591.7 597.6 188 761.6 334.8 560.1 224.7 704 178.8 756.7 371.5 602 564.2 573.1 839.4 714.2 839.4 689.7 197.2 747.1 564.2 615.5 178.8 707.3 839.4 750.9 197.2 648.7 316.4 641.1 215.5 637.4 206.3 644.9 399 597.6 252.2 624.8 839.4 704.6 564.2 620.5 729.3 586.4 444.9 615.2 160.5 737.6" marker-start="url(#f7)" marker-mid="url(#f7)" marker-end="url(#f7)"/>
<path d="M252.2 595.3 665.1 754.8 490.8 644 711 628.9 472.4 688.7 839.4 717.6 178.8 767.5 169.6 743.1 417.4 577.9 399 598.1 206.3 674.6 600.9 720 830.2 713.6 573.3 590.1 610 626.2 197.2 671.7 169.6 744.1 839.4 676.8 243 674.2 233.9 535.4 178.8 738.9 435.7 601.2 518.3 602.8 243 611.2 444.9 642.8 472.4 631 307.2 579.8 610 691.3 362.3 617 536.6 663.1 243 610.7 399 622.4 188 766.4 215.5 685.9 279.7 654.8 243 663.7 555 685.7 481.6 562.4 426.5 661.3 270.6 598.1 389.8 489.8 353.1 560.7 389.8 663.3 206.3 682.2 389.8 656.8 261.4 652.6 646.7 631.3 628.4 625.8 463.2 582.3 646.7 570.2 481.6 725.4 720.1 647 444.9 706.5 573.3 617.1 481.6 615.3 802.7 670.2 188 764.2 389.8 647.8 307.2 643.7 793.5 730 298.1 524.9 325.6 631.8 619.2 650.8 197.2 753.3 206.3 722.2 811.9 709.6 188 741.8 243 639.5 371.5 607.2 821.1 735.4 435.7 597.8 766 638.9 811.9 730.4 646.7 744.7 389.8 592.3 169.6 727.4 316.4 593.3 674.2 642.4 188 748.1 279.7 637.2 711 642.5 463.2 709.8 261.4 674.2 389.8 664.3 665.1 646 178.8 723.6 188 735.4 261.4 604.3 188 717.4 197.2 715 169.6 767 830.2 689.4 600.9 666.6 564.2 647.8 178.8 743.6 188 719.7 215.5 666.9 655.9 662.7 197.2 699.8 839.4 656.3 206.3 699.9 188 704.9 188 743.5 839.4 685.5 591.7 673.6 188 744.3 839.4 688.9 160.5 778.6 169.6 792.8 197.2 723.1 536.6 653.8 206.3 678.6 298.1 503.9 839.4 672.5 197.2 714.8 160.5 784.8 215.5 648.3 233.9 655.9 839.4 719.3 261.4 525 389.8 524.1 454.1 620.5 270.6 655 509.1 622.2 711 647.8 307.2 682.4 316.4 625.2" marker-start="url(#f8)" marker-mid="url(#f8)" marker-end="url(#f8)"/>
<path d="M435.7 585.6 233.9 680.9 536.6 548.6 215.5 670.6 472.4 643 711 666.1 252.2 647.1 188 689.2 674.2 658.1 793.5 727.9 399 734 738.5 648.6 279.7 674 261.4 616.5 261.4 657 591.7 653 408.2 667.6 802.7 732.5 408.2 621.6 197.2 676.1 766 701.5 169.6 762.1 307.2 545.7 224.7 600.1 830.2 605 188 744.4 279.7 556.3 389.8 615 353.1 593.5 527.5 633.7 169.6 739.3 839.4 682.4 298.1 622.2 160.5 751.1 435.7 651.2 729.3 626.3 380.6 483.9 325.6 733.8 747.6 625.8 178.8 751.8 399 728.6 555 627.1 564.2 630.1 766 627.1 188 750.2 435.7 564.1 362.3 571 316.4 561.4 472.4 595.7 573.3 657.9 839.4 743.4 426.5 549.6 509.1 654 811.9 683 178.8 749.7 243 635.3 619.2 656.1 160.5 759.4 766 638.4 169.6 743.7 619.2 583.7 821.1 602.9 243 624.1 775.2 676.3 545.8 639.3 224.7 679.2 683.4 667.8 178.8 711 160.5 733.7 610 577.1 399 554.9 270.6 525.4 490.8 503.9 371.5 606.3 564.2 623.8 527.5 585 665.1 648.7 527.5 634.3 233.9 676.1 555 650.2 619.2 635.4 674.2 653.5 692.6 675.5 591.7 658.2 169.6 761.6 628.4 625.5 472.4 595.1 160.5 776.5 206.3 683.9 362.3 562.2 610 576.5 188 698.3 215.5 659.6 637.6 619.4 288.9 471.7 509.1 612.8 197.2 735.4 206.3 673.8 197.2 661.4 839.4 679.8 298.1 609.8 646.7 639.6 573.3 648.3 490.8 644.3 224.7 692.7 509.1 659.4 435.7 571.5 334.8 558.7 169.6 777.6 279.7 515.1 389.8 658.3 169.6 744.2 408.2 598.2 389.8 596.6 793.5 655.3 775.2 700.1 334.8 558.2 160.5 786.0" marker-start="url(#f9)" marker-mid="url(#f9)" marker-end="url(#f9)"/>
<path d="M160.5 770.7 802.7 692.9 252.2 617.3 839.4 666.7 206.3 673 389.8 644.1 628.4 665.6 573.3 604.3 766 654.1 701.8 663.4 206.3 724.1 628.4 662.9 288.9 618.6 821.1 669.4 417.4 594.4 252.2 661.1 536.6 643.1 610 556.7 793.5 613.3 188 704 472.4 603.7 692.6 698 325.6 643.5 490.8 629.5 178.8 772.6 261.4 631.1 197.2 683.2 298.1 608.2 839.4 730.3 738.5 741.9 600.9 614.4 417.4 603.1 307.2 623.9 830.2 715.3 215.5 623.7 215.5 669.8 270.6 676.9 206.3 730.2 839.4 652.7 454.1 563.7 215.5 620.9 160.5 773.9 188 670.5 160.5 781.7 362.3 665.4 839.4 744.6 527.5 571.3 811.9 701.3 160.5 804.3 178.8 778.9 334.8 654.8 454.1 546.5 444.9 551.1 178.8 740.2 426.5 615.9 536.6 564.9 169.6 742.6 775.2 638.2 389.8 530.4 389.8 660.5 527.5 695.8 252.2 660.3 206.3 789.2 811.9 719.8 261.4 649.1 325.6 650.7 215.5 611.7 316.4 645 224.7 676.2 169.6 762.8 646.7 667 169.6 739.7 839.4 721.5 188 709.9 279.7 663.6 178.8 735.7 188 721.6 288.9 657.3 334.8 612.1 298.1 639.5 665.1 615.8 160.5 759.2 573.3 707.4 454.1 643.6" marker-start="url(#f10)" marker-mid="url(#f10)" marker-end="url(#f10)"/>
<path d="M839.4 671.9 325.6 630.7 573.3 626.3 252.2 667.4 756.8 676.6 243 684.4 197.2 685.3 784.4 650.1 628.4 609.8 646.7 647.3 380.6 663.1 380.6 617.3 408.2 590.4 270.6 657.6 252.2 668.1 628.4 689.3 839.4 752.1 252.2 640.1 325.6 567.2 481.6 628.3 307.2 651.5 197.2 710.7 316.4 647.7 160.5 773.4 233.9 614.7 307.2 617.6 307.2 656.1" marker-start="url(#f11)" marker-mid="url(#f11)" marker-end="url(#f11)"/>
<path d="M160.5 746.7 454.1 604.5 215.5 656.4 215.5 669.5 408.2 542.2 206.3 750.6 233.9 636.8 463.2 529.7 169.6 763.5 628.4 681.4 188 760.3 279.7 642.9 399 535.2 582.5 599.5 353.1 596.1 224.7 655.4 518.3 652.2 206.3 723.4 380.6 563.9 215.5 693 197.2 674.8 839.4 719.7" marker-start="url(#f12)" marker-mid="url(#f12)" marker-end="url(#f12)"/>
<path d="M288.9 606.1 646.7 545.2 197.2 722.6 371.5 611.1 573.3 677.3 490.8 559.4 362.3 587 683.4 627.9 619.2 681.8 233.9 707.5 188 641.5 160.5 804.3 463.2 654.3 738.5 623.4 665.1 679.5 160.5 779.3 169.6 783.1 169.6 734.4 619.2 680.6 692.6 664.7 169.6 767.6 683.4 637.4 509.1 597.4 509.1 522.8 215.5 677.4 160.5 773.5 555 646.9 821.1 663.8 178.8 753.8 839.4 681.6 408.2 595 178.8 711.3 169.6 784.9 839.4 736.3 536.6 545.5" marker-start="url(#f13)" marker-mid="url(#f13)" marker-end="url(#f13)"/>
<path d="M178.8 756.2 279.7 581.7 316.4 546.6 573.3 664.4 499.9 670.7 756.8 661.5 766 584 344 617.8 573.3 648.1 252.2 644.2 435.7 575.9 444.9 670.6 215.5 704 160.5 744.9 224.7 680.8 178.8 699.2 206.3 693.7 178.8 725.4 233.9 621.9 426.5 599.8 499.9 662.2 252.2 660.8 490.8 662.1 665.1 613.7 160.5 753.7 399 498.1 243 671.9 178.8 703.4 316.4 584 839.4 679.3 518.3 666.7 756.8 634.5 674.2 665.7 353.1 623.2 454.1 640.7 233.9 558.2 178.8 744.3 564.2 667 665.1 657.7 206.3 675 188 710.1 564.2 621.1 197.2 764.1 353.1 648.6 334.8 681.1" marker-start="url(#f14)" marker-mid="url(#f14)" marker-end="url(#f14)"/>
<path d="M233.9 674.4 215.5 700.6 839.4 739.7 536.6 537.9 298.1 593.3 784.4 605.4 298.1 654.7 463.2 583.9 399 561.4 371.5 620.1 316.4 677.5 243 672.7 298.1 511.6 188 735.5 362.3 601.6 674.2 643.7 591.7 652.8 545.8 724.6 288.9 613.5 545.8 583.6 288.9 562.7 334.8 648.1 802.7 695.8 261.4 632.8 371.5 548.6 747.6 629 399 625 426.5 619.5 720.1 651.9 380.6 596.1 178.8 740.9 729.3 589.2 454.1 619.8 206.3 732 169.6 763.1 481.6 539.9 169.6 755.7 573.3 549.2 408.2 619.2 839.4 722 261.4 692.9" marker-start="url(#f15)" marker-mid="url(#f15)" marker-end="url(#f15)"/>
<path d="M564.2 557.2 316.4 599.8 178.8 754.8 536.6 602.7 270.6 547.8 252.2 603.5 839.4 601.6 169.6 756.7 481.6 592.7 206.3 692.8 197.2 698.1 307.2 610.7 178.8 773.1 206.3 717.4 233.9 645.2 536.6 567.6 344 476.5 197.2 720 839.4 644.2 169.6 718.4 646.7 632.7 399 661 270.6 548.5 307.2 585.3" marker-start="url(#f16)" marker-mid="url(#f16)" marker-end="url(#f16)"/>
<path d="M270.6 570.6 178.8 760.7 270.6 640.2 160.5 755 811.9 731.5 683.4 578.7 426.5 591.4 197.2 654 389.8 597.7 353.1 604.2 169.6 756.9 270.6 655.8 188 770 711 688.3 224.7 701 160.5 774.6 188 734.7 169.6 741.6 252.2 628.4 261.4 638 169.6 802 243 614 408.2 686.1" marker-start="url(#f17)" marker-mid="url(#f17)" marker-end="url(#f17)"/>
<path d="M545.8 679.2 545.8 601.6 499.9 593.9 252.2 572.8 692.6 678 711 645.7 353.1 606.4 197.2 678.4 188 726.1 692.6 645.6 481.6 565.7 555 639.8 233.9 611.4 509.1 666.4 701.8 598.2 298.1 551.7 784.4 668 720.1 603.6 738.5 676.5 169.6 728.0" marker-start="url(#f18)" marker-mid="url(#f18)" marker-end="url(#f18)"/>
<path d="M527.5 556.1 426.5 482 344 603.3 564.2 545.3 435.7 656.2 279.7 625.7 784.4 704.4 775.2 700.7 188 669.9 215.5 702.3 399 610.7 747.6 609.3 729.3 756.3 169.6 777.3 811.9 717.3 472.4 560.7 692.6 609.5 655.9 654.8 206.3 677.1 839.4 766 839.4 727.1 766 585.9 435.7 629.1 555 606.2 454.1 594.8 637.6 649 454.1 568.1 610 628 490.8 687.3" marker-start="url(#f19)" marker-mid="url(#f19)" marker-end="url(#f19)"/>
<path d="M307.2 613.2 399 622 509.1 643.9 610 617.5 444.9 659.1 408.2 682.4 499.9 634.1 215.5 736.5 683.4 638.9 509.1 640.3 509.1 617 399 585.5 600.9 650 545.8 613.3 169.6 752.6 288.9 609.5 307.2 588 325.6 644.8 353.1 591.6 371.5 586.7 334.8 615.3 536.6 651.5 610 656.4 600.9 599.6 215.5 612.3 536.6 661.4 683.4 633.5 830.2 649 527.5 647 683.4 619.8 325.6 599.4 399 572.6 353.1 646.9 536.6 599.2 408.2 546.4 435.7 602.7 821.1 704.6 619.2 641.6 417.4 636.4 261.4 656.2 839.4 781.2 206.3 699 481.6 662.4 536.6 631 518.3 574.4" marker-start="url(#f20)" marker-mid="url(#f20)" marker-end="url(#f20)"/>
<path d="M555 664.6 463.2 625.1 775.2 646 692.6 610.8 353.1 629.1 426.5 663.5 784.4 742.8 252.2 625.1 674.2 603.7 316.4 664.3 582.5 644 674.2 585.8 426.5 621.4 591.7 683.7 490.8 674.6 674.2 629.8 802.7 684.5 738.5 636.2 555 612.6 499.9 589.7 582.5 541.6 380.6 641.9 362.3 647.7 334.8 577.4 279.7 634.9 252.2 666.4 444.9 552.2 490.8 620.3 371.5 549.1 536.6 524.6 463.2 536.9 802.7 622 711 688.9 261.4 582 288.9 582.4 334.8 612.2 729.3 600.1 628.4 583.7 545.8 665.1 362.3 604.7 509.1 615.8 270.6 632.8 417.4 524.2 784.4 697.2 188 682.2 793.5 625.9 839.4 694.9 711 662.5 224.7 588.7 775.2 652.8 371.5 640.5 307.2 638.8 316.4 612.4 279.7 673.6" marker-start="url(#f21)" marker-mid="url(#f21)" marker-end="url(#f21)"/>
<path d="M454.1 606.5 325.6 590.8 371.5 619.5 243 604.1 197.2 705.5 747.6 615 454.1 621.9 573.3 631.9 518.3 604.1 389.8 623.9 298.1 629.6 325.6 593.3 472.4 553.3 316.4 655.5 665.1 627.6 224.7 694.5 674.2 644.4 600.9 629.2 655.9 745.6 655.9 666.1 591.7 636.6 233.9 675.9 811.9 642.8 252.2 675.4 573.3 623.9 472.4 570.4 555 610.4 747.6 642.3 821.1 641.2 371.5 511.3 353.1 594.9 444.9 628 344 624.5 518.3 618.1 839.4 714.2 399 606.9 509.1 581.7 325.6 633.2 738.5 671.3" marker-start="url(#f22)" marker-mid="url(#f22)" marker-end="url(#f22)"/>
<path d="M610 691.1 600.9 552.1 463.2 577 821.1 706.8 371.5 538 472.4 573.5 454.1 547.1 499.9 567.6 738.5 659.2 811.9 666.6 610 592.7 389.8 552.8 243 748.1 720.1 694.8 380.6 522.5 692.6 656.2 371.5 657.1 784.4 723.6 435.7 690.8 417.4 464.9 371.5 588.2 270.6 600.3 802.7 710.8 288.9 659.7 389.8 595 288.9 577 509.1 648 518.3 672.8 334.8 644.4 334.8 508.5 344 632 316.4 609.3 692.6 597.3 545.8 669.6 564.2 641 839.4 670.6 444.9 525.3" marker-start="url(#f23)" marker-mid="url(#f23)" marker-end="url(#f23)"/>
<path d="M362.3 575.3 344 632.2 600.9 638.9 252.2 670.1 793.5 674.9 564.2 644.2 444.9 674.2 389.8 712.5 655.9 645.9 536.6 600.9 288.9 668.7 793.5 652.7 344 606.5 472.4 541 490.8 646.3 775.2 661.8" marker-start="url(#f24)" marker-mid="url(#f24)" marker-end="url(#f24)"/>
<path d="M270.6 660.4 701.8 671.4 408.2 531 784.4 653.5" marker-start="url(#f25)" marker-mid="url(#f25)" marker-end="url(#f25)"/>
<path d="M481.6 608.6 747.6 618.1" marker-start="url(#f26)" marker-mid="url(#f26)" marker-end="url(#f26)"/>
<path d="M417.4 639.7 573.3 684 573.3 656.3 334.8 602.5 444.9 631 307.2 662.8 490.8 646.6 316.4 647.2 839.4 781.2 435.7 618.9 178.8 774.3 160.5 772.9 233.9 653 178.8 743 399 638.8 178.8 757.3 738.5 650.1 252.2 638.6 545.8 617.6 692.6 562.9 380.6 660.2 316.4 508.7 307.2 649.8 160.5 786.8 178.8 747.4 637.6 546.2 224.7 670.9 839.4 675.8 619.2 660.3 839.4 689.4 674.2 600.9 454.1 608.4 178.8 720.2 389.8 604.5" marker-start="url(#f6)" marker-mid="url(#f6)" marker-end="url(#f6)"/>
<path d="M362.3 621.5 279.7 635.6 839.4 639.3 197.2 657.4 839.4 725.6 224.7 695.4 536.6 556.7 527.5 657.8 344 551 224.7 596 252.2 641.5 766 679.5 536.6 562.7 160.5 758.4 839.4 710.9 233.9 648 233.9 583.7 270.6 675.8 188 750.7 435.7 621.5 701.8 651.4 821.1 676.7 233.9 625 270.6 598.5 334.8 650 444.9 640 683.4 662.3 233.9 641 499.9 519.2 720.1 645.6 215.5 658.3 839.4 729.9 600.9 635.7 233.9 724.6 307.2 625.9 545.8 672.9 371.5 528.1 417.4 624.2 288.9 623.6 463.2 664.3 435.7 591.8 197.2 719 692.6 518.6 261.4 654.3 435.7 582.4 692.6 650.4 683.4 590.2 215.5 680.5 646.7 585.4 619.2 626.8 417.4 631.2 215.5 688.1 426.5 574.3 178.8 759 518.3 673 160.5 767.7 839.4 749.4 408.2 605 380.6 632.7 224.7 700.2 839.4 722.1 252.2 589.6 527.5 624.2 380.6 624.4" marker-start="url(#f7)" marker-mid="url(#f7)" marker-end="url(#f7)"/>
<path d="M188 730.8 224.7 672 839.4 662.5 729.3 632.1 646.7 670.1 646.7 656.7 178.8 739.8 160.5 805.2 628.4 524.9 389.8 511.2 252.2 639.5 233.9 694.5 160.5 764.7 307.2 579.5 279.7 731.1 600.9 616 188 689.8 353.1 607.9 628.4 631.7 279.7 658.8 545.8 582.1 573.3 663.7 839.4 713.8 839.4 675.3 243 539.7 518.3 559.6 252.2 642.6 261.4 654.2 169.6 787 463.2 559.2 454.1 655.5 435.7 614.3 738.5 672.5 839.4 719 839.4 641.5 839.4 699.8 756.8 666.2 197.2 714.9 720.1 623.5 600.9 600.1 206.3 702.1 683.4 676 426.5 667.4 371.5 585.8 766 677.2 839.4 762.8 582.5 627.4 472.4 647.9 683.4 618.2 215.5 704.4 454.1 648.9 160.5 740.1 674.2 642 325.6 611.4 729.3 693.2 499.9 621.9 362.3 628.1 344 629.7 252.2 648.7 178.8 775.3 545.8 612.4 316.4 672.2 435.7 650 344 643.3 619.2 658.1 518.3 641 527.5 601.2 178.8 741.1 380.6 555.5 646.7 550.8 435.7 625.3 766 625.3 279.7 585.3 325.6 554.3 573.3 625.2 169.6 784.5 399 590.6 711 611.3 490.8 625.1 711 624.6 454.1 495.9 839.4 702.4 233.9 610.7 243 710 178.8 727.1 408.2 500.3 463.2 627.8 747.6 719.5 334.8 609.9 215.5 679.5 215.5 640.1 362.3 568.4 178.8 726.5 188 728.5 389.8 637.7 169.6 746.7 160.5 788.3 417.4 583.1 206.3 687.8 766 675.3 316.4 633.2 188 668.9 839.4 650.7 206.3 670.5 839.4 665.2 637.6 680 555 630.6 499.9 636.3 215.5 648.2 261.4 694.5 426.5 644.1 564.2 549.1 215.5 682.6 637.6 579.7 683.4 610 270.6 653.4 160.5 764.4 610 613.2 206.3 722.4 188 740.9 527.5 617.8 307.2 699.6 160.5 771.4" marker-start="url(#f8)" marker-mid="url(#f8)" marker-end="url(#f8)"/>
<path d="M160.5 750.3 518.3 533 279.7 599.3 188 753.7 298.1 572.4 646.7 596.9 619.2 607.6 839.4 713.5 582.5 609.9 252.2 651.3 224.7 650.7 435.7 617.8 610 628.9 619.2 599.1 233.9 622.3 408.2 539.5 821.1 701.5 252.2 675.1 408.2 609.9 839.4 728.8 178.8 789 233.9 595.8 499.9 625.5 188 757.8 188 738.7 839.4 698.3 738.5 643.3 839.4 679.8 252.2 657 655.9 592 270.6 571 821.1 705.2 334.8 599.6 490.8 632.1 499.9 629.5 811.9 746.7 582.5 601.2 802.7 650.8 197.2 697.1 325.6 643.9 261.4 641.7 536.6 601.2 839.4 707.2 178.8 750 720.1 616 463.2 662 243 693.6 261.4 600.3 160.5 765.6 197.2 685 316.4 487.7 243 638.2 224.7 641.3 564.2 648.4 215.5 651.3 417.4 629.7 224.7 678.2 463.2 612.8 261.4 572.4 288.9 598.3 839.4 758.9 573.3 631.7 490.8 705 839.4 681.1 160.5 790.8 380.6 585.3 224.7 651.2 224.7 657.1 720.1 644.5 408.2 680.6 169.6 774 371.5 612.1 188 689.6 389.8 606.1 408.2 667 811.9 703.1 784.4 677.7 261.4 653.6 692.6 684.8 444.9 621.8 426.5 662.7 252.2 682.7 839.4 689.4 188 730.2 270.6 609.9 298.1 604.2 288.9 619.2 298.1 672.6 261.4 665 243 644.6 353.1 653.8 389.8 650.6 573.3 627.1 380.6 589.8 417.4 618 261.4 691.2 188 720.9 215.5 665.1 582.5 599.4 509.1 562 435.7 610.5 169.6 744.2 233.9 685.2 243 681.9 454.1 684.8 417.4 645 325.6 589.5 545.8 615.7 573.3 676.8 738.5 625.3 610 608.9 344 604.2 591.7 618.1 160.5 784.7 233.9 615 839.4 733.7 197.2 719.7 720.1 643.2 160.5 778.4 160.5 759 610 618.7 243 555.7 454.1 583.3 169.6 771.9 178.8 753.3 344 664 729.3 652.8 380.6 612.1 839.4 668 839.4 667.2 637.6 591.5 169.6 773.1 408.2 592.1 839.4 701.7 463.2 602.3 224.7 671.1 178.8 716 389.8 564.4 573.3 589.6 307.2 660.9 380.6 622.6" marker-start="url(#f9)" marker-mid="url(#f9)" marker-end="url(#f9)"/>
<path d="M463.2 606.7 270.6 641.9 169.6 767.4 417.4 654.5 178.8 735.9 766 702.7 756.8 622.5 637.6 598.7 197.2 705.5 655.9 569.7 270.6 522.6 839.4 732.2 243 575 839.4 703.5 729.3 647.2 233.9 617.8 178.8 748 224.7 664.2 215.5 689.5 683.4 619.4 325.6 627 288.9 631.5 169.6 764.5 279.7 537.6 655.9 653.9 738.5 653.3 362.3 628.1 206.3 623.1 408.2 633.1 399 588.4 261.4 628.8 518.3 551.4 463.2 616.9 224.7 621 545.8 620.1 811.9 640.9 344 588.7 362.3 621.9 362.3 567.6 830.2 722.9 160.5 766 619.2 679.3 545.8 642.5 334.8 623.6 839.4 701.6 830.2 728 720.1 685.7 839.4 718.2 665.1 616.6 490.8 536.8 206.3 666.6 582.5 572.7 325.6 589.7 279.7 619 178.8 773.3 279.7 611.1 481.6 640.7 233.9 647.1 692.6 631.9 169.6 742.9 408.2 544.6 206.3 734.2 399 623.3 802.7 636.5 839.4 704.4 233.9 659.5 243 589.6 188 732 224.7 642.9 555 627.1 527.5 525.4 353.1 623 353.1 469.2 160.5 765.4 830.2 681.2 206.3 740.5 261.4 637.3 243 664.2 472.4 631.2 160.5 805.2 389.8 618.7 600.9 574.1 371.5 591.2 261.4 556.6 160.5 771 610 663.4 399 604.2 674.2 663.1 720.1 583.4 188 725.7 711 650.8 197.2 710.8 637.6 700.7" marker-start="url(#f10)" marker-mid="url(#f10)" marker-end="url(#f10)"/>
<path d="M701.8 557.1 252.2 602.3 839.4 684.8 224.7 633 288.9 644.2 399 578.2 197.2 698.9 353.1 623.9 481.6 625.7 490.8 564.5 169.6 773.1 839.4 725.4 766 658.2 701.8 752.1 206.3 738.9 178.8 754.9 288.9 631.6 270.6 611 600.9 613.8 169.6 798.4 839.4 781.2 839.4 668.6 839.4 685.5 261.4 667.6 527.5 634.4 555 655.1 169.6 770 197.2 736.2 215.5 643 619.2 602.5 160.5 750.4 279.7 705.2 839.4 737.8 325.6 515.1 499.9 533.6" marker-start="url(#f11)" marker-mid="url(#f11)" marker-end="url(#f11)"/>
<path d="M610 615.2 775.2 635.6 160.5 782.1 362.3 600.1 839.4 759.2 233.9 623.7 252.2 655.6 582.5 623.2 821.1 697.9 499.9 546.1 564.2 652.1 252.2 643 206.3 656.8 555 622.6 298.1 660.3 197.2 697.3 334.8 649.9" marker-start="url(#f12)" marker-mid="url(#f12)" marker-end="url(#f12)"/>
<path d="M206.3 692.7 389.8 623.8 756.8 603.6 380.6 549.3 408.2 622.2 628.4 594.3 591.7 605 206.3 723.3 463.2 591.1 261.4 645.5 444.9 610.9 334.8 674.6 619.2 671.6 811.9 665.5 188 721.4 188 758 463.2 504.1 628.4 651.2 224.7 654.9 243 648 701.8 588.9 509.1 518.4 509.1 663.6 610 634.7 197.2 707.4 628.4 528.4 279.7 582.6 224.7 658.1 160.5 756.7 224.7 595.3 821.1 644.6 426.5 639.0" marker-start="url(#f13)" marker-mid="url(#f13)" marker-end="url(#f13)"/>
<path d="M224.7 682.2 206.3 678.3 233.9 560.7 408.2 511.7 802.7 690.2 215.5 645.3 298.1 595.1 188 727.3 169.6 745.2 270.6 626 279.7 600.6 472.4 643.7 243 673.9 371.5 628.7 591.7 643.4 380.6 635.4 444.9 671.2 224.7 667.8 839.4 701.6 756.8 676.2 316.4 671.3 178.8 733.1 619.2 636.2 279.7 618.9 243 696.8 169.6 759.4 243 641.9 371.5 508.9 261.4 689.2 160.5 798 619.2 605.3 353.1 681.6 665.1 614.7 206.3 660.4 527.5 570.4 426.5 605.3 169.6 695.4 371.5 590.5 573.3 558.6 472.4 605.7 307.2 644 591.7 629.3 243 612 454.1 639.8 169.6 772.8 729.3 696.5" marker-start="url(#f14)" marker-mid="url(#f14)" marker-end="url(#f14)"/>
<path d="M527.5 595.3 499.9 655.9 582.5 577.3 160.5 773.2 279.7 638.3 215.5 681.6 509.1 651.3 619.2 600.9 233.9 671.4 674.2 635.7 499.9 639.7 371.5 510.1 224.7 642.4 243 659.1 178.8 760.6 610 619.5 243 673.6 417.4 588.3 380.6 701.4 545.8 631.8 637.6 661.1 371.5 507.3 463.2 594.8 518.3 577.8 435.7 668.8 233.9 559.6 215.5 713.8 775.2 670 527.5 543.6 169.6 757.9 169.6 799.4 160.5 741.3 591.7 630.5" marker-start="url(#f15)" marker-mid="url(#f15)" marker-end="url(#f15)"/>
<path d="M206.3 678.9 380.6 619.4 188 761.2 463.2 624.8 169.6 764.8 509.1 671.4 509.1 601.5 839.4 707.6 197.2 732.9 619.2 653 252.2 602.5 197.2 707.7 362.3 649.5 224.7 685.7 261.4 673.7 243 632.9 188 708.6 802.7 620.3 188 750.1 720.1 675.6 178.8 786.3 564.2 588.5 169.6 735 839.4 707.6 178.8 774.7 499.9 608.1" marker-start="url(#f16)" marker-mid="url(#f16)" marker-end="url(#f16)"/>
<path d="M233.9 658.7 555 598.4 206.3 680.1 839.4 750 279.7 681.4 701.8 567.5 637.6 586.3 527.5 606.4 711 665.3 454.1 578.7 637.6 637.2 665.1 591.7 454.1 549.5 426.5 648.8 701.8 663.3 637.6 599.5 417.4 620.8 481.6 626.7 188 709.2 417.4 526.1 389.8 621.5 509.1 635 206.3 689.6 279.7 674.5 839.4 719.8 233.9 628.7 298.1 558.2 518.3 639.3" marker-start="url(#f17)" marker-mid="url(#f17)" marker-end="url(#f17)"/>
<path d="M637.6 578.2 775.2 668.3 490.8 565.8 747.6 699.9 288.9 539.8 243 622.3 665.1 626.5 665.1 624.4 270.6 594.1 371.5 614.9 720.1 672.5 729.3 631.9 490.8 603.7 573.3 619.2 160.5 749.9 344 526.7 215.5 665.2 830.2 715.8 775.2 720.2 279.7 678.9 628.4 585.3 839.4 640.4 591.7 723 766 600 270.6 673.1 224.7 648.2" marker-start="url(#f18)" marker-mid="url(#f18)" marker-end="url(#f18)"/>
<path d="M701.8 644 536.6 600.1 188 741.7 518.3 628.1 518.3 557.2 261.4 642.9 252.2 676.8 701.8 655.2 509.1 674.8 481.6 637.5 334.8 635.8 426.5 541.7 499.9 622.5 353.1 654.4 481.6 620.4 224.7 651.9 325.6 659.3 279.7 648.4 353.1 594.2 839.4 620.3 747.6 684.6 233.9 599.7 582.5 652.8 628.4 616.5 279.7 628.6 674.2 624.6 545.8 614.5 756.8 698.7 555 658.8 637.6 626.7 610 641.4 518.3 645.6 316.4 648.4 582.5 606 408.2 588.4 243 608 591.7 665.1 344 555.2 600.9 685.2 206.3 722.2 444.9 621.8 472.4 650.2 197.2 630.7 252.2 633.7 224.7 640.8 279.7 617.1 188 736.4 518.3 615.2 261.4 577 224.7 660.4 756.8 687.8 481.6 593.5 426.5 590.1" marker-start="url(#f19)" marker-mid="url(#f19)" marker-end="url(#f19)"/>
<path d="M683.4 662.1 711 676.6 316.4 620.6 646.7 644.6 655.9 659.9 692.6 617.5 573.3 647.9 307.2 663.1 380.6 555.6 252.2 690.4 490.8 570.7 775.2 713.4 720.1 645 399 540.1 444.9 604.7 646.7 648.5 582.5 629.6 298.1 677.2 353.1 606.8 701.8 659.5 160.5 743.6 463.2 571.3 233.9 693.5 839.4 744.1 600.9 646.4 362.3 608.1 628.4 610.2 444.9 638.4 325.6 590 628.4 673.3 298.1 649.8 747.6 641.9 839.4 700.2 298.1 607.3 435.7 648.2 555 642 353.1 605 775.2 700.1 206.3 660.1 518.3 658.8 637.6 714.2" marker-start="url(#f20)" marker-mid="url(#f20)" marker-end="url(#f20)"/>
<path d="M784.4 693.4 243 706.9 472.4 595.3 674.2 696.2 435.7 544.1 224.7 690.5 472.4 665.4 619.2 722.2 325.6 470.8 490.8 646.2 655.9 559.5 279.7 613.2 564.2 609.1 252.2 663.6 738.5 644.9 463.2 623.9 655.9 613.3 518.3 568 463.2 672.5 435.7 539.7 839.4 653.3 444.9 694.9 545.8 639.1 371.5 598.6 481.6 641.7 270.6 612.7 334.8 558 582.5 640.4 426.5 662 793.5 713.3 417.4 564.8 270.6 580.7 564.2 634.7 637.6 682.2 784.4 655.6 591.7 683.2 600.9 608.1 527.5 658 316.4 645.1 555 624.4 288.9 530.2 655.9 581.7 711 663.9 353.1 557.8 371.5 651 298.1 567.9" marker-start="url(#f21)" marker-mid="url(#f21)" marker-end="url(#f21)"/>
<path d="M582.5 647.1 325.6 566.7 233.9 655.9 610 610.4 261.4 570.3 830.2 652.3 793.5 662.4 655.9 659 646.7 648.2 270.6 625.8 811.9 673.8 472.4 643.6 619.2 591.6 720.1 615.4 307.2 669.4 298.1 660.6 334.8 621.8 766 693 463.2 618.7 610 543 564.2 629.3 665.1 526 426.5 640.8 279.7 643 729.3 694.2 261.4 636 536.6 581 711 683.6 628.4 578.6 655.9 662.4 683.4 689.3 591.7 659.9" marker-start="url(#f22)" marker-mid="url(#f22)" marker-end="url(#f22)"/>
<path d="M793.5 662.6 252.2 647.6 665.1 557.5 646.7 550.7 600.9 697.6 408.2 609.4 655.9 604.6 334.8 600.9 380.6 610.4 536.6 567.8 426.5 556.2 279.7 683 454.1 573.1 399 622.8 591.7 672.9 692.6 605.1 362.3 583.4 821.1 692.2 564.2 633.6 784.4 641.7 692.6 645.3 454.1 636.3 499.9 653.7" marker-start="url(#f23)" marker-mid="url(#f23)" marker-end="url(#f23)"/>
<path d="M169.6 716.5 692.6 691.2 610 643.6 628.4 619.8 839.4 781.2 371.5 637.2 582.5 652.9 215.5 670.9 380.6 645.3 344 586 729.3 695.3 821.1 703.7 353.1 589.5 417.4 606.1" marker-start="url(#f24)" marker-mid="url(#f24)" marker-end="url(#f24)"/>
<path d="M307.2 549.2 509.1 677.7 344 615.2 637.6 666.6 178.8 775.4 490.8 617.1 738.5 663.6" marker-start="url(#f25)" marker-mid="url(#f25)" marker-end="url(#f25)"/>
<path d="M334.8 600.8 555 623.6 655.9 558.5" marker-start="url(#f26)" marker-mid="url(#f26)" marker-end="url(#f26)"/>
<path d="M215.5 650.6 564.2 646.8 215.5 688.3 637.6 635.9 766 613.6 711 629.7 316.4 604 839.4 677.1 756.8 681.7 775.2 631.3 536.6 670.1 243 639.4 564.2 646.3 619.2 627.7 233.9 626.3 683.4 695 233.9 676.4 839.4 676.5 178.8 758.2 243 649 206.3 739.3 215.5 622.4 215.5 637.6 720.1 639.4 298.1 641.8" marker-start="url(#f6)" marker-mid="url(#f6)" marker-end="url(#f6)"/>
<path d="M307.2 614.2 527.5 578.3 839.4 680.3 655.9 618.7 233.9 640.8 169.6 759.8 518.3 675.2 160.5 744.9 408.2 604.3 509.1 653.6 555 587.7 545.8 593.9 188 775.9 325.6 587.9 444.9 583.9 279.7 687.5 720.1 671.1 160.5 791.8 683.4 567.3 270.6 613.2 756.8 674.4 197.2 739.1 197.2 750 600.9 653.1 288.9 557.4 839.4 682.5 270.6 670.3 839.4 700.1 160.5 797.2 215.5 635.9 389.8 644.3 344 661.5 298.1 616.3 188 698.7 490.8 613.2 224.7 575.3 775.2 607.6 188 696.4 417.4 538.8 224.7 626.5 683.4 695.9 224.7 620.1 454.1 588.6 499.9 615 270.6 635.9 270.6 571.9 169.6 777.6 307.2 536.9 252.2 617.1 178.8 735.3 839.4 743.1 178.8 741 224.7 700.5 215.5 684.4 610 655.1 307.2 638.4 160.5 787.7 701.8 660 637.6 617.6 610 622.3 215.5 644.9 261.4 685.7 518.3 488.2 197.2 696.9 243 652.5 233.9 583.4 426.5 740 270.6 585 839.4 682.7 362.3 619.9 197.2 734.3" marker-start="url(#f7)" marker-mid="url(#f7)" marker-end="url(#f7)"/>
<path d="M188 776.5 472.4 673.9 399 608.1 426.5 546.8 270.6 642.9 288.9 558.3 830.2 705.5 775.2 701.2 344 617.1 747.6 688.2 839.4 752.1 426.5 600.2 610 558.4 362.3 619.3 188 732.6 839.4 705.9 665.1 602.3 738.5 667.7 362.3 627.2 435.7 564.8 747.6 667.6 692.6 628.2 178.8 745.5 600.9 629.1 188 726.6 619.2 607.2 756.8 689.9 756.8 633 224.7 667.3 160.5 763.4 527.5 638.3 279.7 650.3 665.1 622.5 334.8 620.5 206.3 777.4 444.9 638.5 408.2 589.8 481.6 525.6 288.9 603.2 160.5 762.8 160.5 763.4 555 598.9 683.4 661.5 243 642.9 325.6 526.8 499.9 636.5 655.9 690.7 435.7 571.7 839.4 662.9 178.8 751.6 830.2 724.8 160.5 743.3 582.5 530.1 564.2 583.6 637.6 624.6 499.9 627.1 169.6 758.5 389.8 646.2 472.4 605.6 472.4 604.4 215.5 628.9 711 662.3 252.2 659.9 839.4 678.4 545.8 624.5 454.1 667.5 646.7 603.3 674.2 647.7 674.2 583.6 839.4 740.6 197.2 719.2 610 666.6 334.8 617.9 536.6 653.1 389.8 601.1 270.6 567.6 545.8 681.2 802.7 688.6 839.4 690.6 646.7 650.3 839.4 666.3 747.6 626.7 252.2 587.3 169.6 771.3 344 592.9 243 595 582.5 649.4 655.9 664.2 362.3 665.5 197.2 687.6 527.5 538.7 830.2 680.3 839.4 701 444.9 557.3 188 722.6 197.2 682.8 206.3 682.8 215.5 676 573.3 572.3 775.2 664.1 499.9 642.8 243 673.2 279.7 671.3 197.2 735 353.1 558.6 288.9 542.4 261.4 637.2 839.4 684.7 316.4 640.9 839.4 633.9 839.4 662.9 169.6 705.1 701.8 653.5 206.3 690.1 839.4 641.5 610 669.2 160.5 771.6 270.6 685.1 224.7 652.4 261.4 565.2 252.2 619.7 793.5 689.9 490.8 697.6 509.1 656.3 444.9 637.4 169.6 743.1 463.2 646.1 325.6 659.7 775.2 604.4 334.8 595.3 353.1 592.1 426.5 620.5 270.6 561.1 243 656.3 270.6 637.1 224.7 646.6 362.3 575.6 591.7 618.5 802.7 682.7 233.9 643.5 188 705.7 509.1 647.2 444.9 617.9 839.4 699.8 619.2 649.3 270.6 661.3" marker-start="url(#f8)" marker-mid="url(#f8)" marker-end="url(#f8)"/>
<path d="M334.8 600.1 288.9 535.7 261.4 700.5 536.6 586.6 527.5 561.1 683.4 638.5 683.4 640.2 206.3 725.6 279.7 566.9 839.4 683.4 178.8 718.7 555 607.9 454.1 552.7 518.3 626.8 334.8 642.5 839.4 725 206.3 697.1 619.2 616.5 555 608.1 389.8 618.2 665.1 691.9 215.5 684.9 243 617.1 261.4 642.3 206.3 654.3 224.7 655 555 723.5 426.5 626.8 683.4 632.3 197.2 737.7 279.7 644.8 582.5 646.3 582.5 645.4 178.8 778.8 233.9 667.4 279.7 655.3 472.4 605.3 261.4 667.5 692.6 690.8 160.5 772.6 701.8 638.3 720.1 597.4 610 609.2 481.6 602.9 178.8 770.4 509.1 578.9 646.7 581.6 243 667.2 582.5 619.9 564.2 499.9 472.4 610.8 252.2 664.2 224.7 652.8 178.8 754.4 307.2 680.3 628.4 668.3 536.6 638.5 839.4 669.8 454.1 555.8 197.2 675.2 197.2 732.4 169.6 739.8 279.7 610.4 435.7 602.7 169.6 767 215.5 678.2 307.2 617.5 380.6 627.5 206.3 726.4 555 649.8 169.6 734.9 628.4 662.5 160.5 789.5 426.5 628.4 490.8 664.8 591.7 639.2 784.4 700.5 444.9 630.3 839.4 694.6 747.6 592.1 206.3 696.2 197.2 685.3 839.4 711.4 417.4 654 325.6 637.2 766 652 197.2 745.5 197.2 741 389.8 538.7 527.5 661.5 224.7 636.3 646.7 648.5 701.8 673 600.9 592.3 188 697.1 178.8 760.3 738.5 617 188 699.8 701.8 676.5 463.2 591.1 444.9 588.6 169.6 752.5 793.5 608.6 839.4 701 270.6 625.5 380.6 631.1 600.9 595.7 197.2 732.3 197.2 711.1 279.7 567.9 472.4 616.3 399 586.9 298.1 538 417.4 621 701.8 608.8 683.4 632.7 169.6 771 169.6 740.5 481.6 662.3 720.1 643.1 839.4 731.1 178.8 794 545.8 632.5 619.2 627.9 637.6 631.4 839.4 741.4 600.9 634.3 426.5 609.5 252.2 678.5 600.9 595.3 298.1 620.1 362.3 694.8 711 620.4 793.5 702.3 811.9 673.3 591.7 672.8 243 628.1 206.3 692.7 197.2 723.1 316.4 641.5 490.8 668.3 756.8 678 307.2 557.4 793.5 639.4 454.1 648.9 481.6 608.6 215.5 645.7 206.3 714.5 206.3 636.9 233.9 639.0" marker-start="url(#f9)" marker-mid="url(#f9)" marker-end="url(#f9)"/>
<path d="M555 666.4 197.2 653.4 454.1 674.4 215.5 670.9 224.7 657.9 197.2 723.6 499.9 619.4 610 687.1 399 494.9 481.6 605.7 215.5 639.1 463.2 576.1 527.5 649.9 206.3 692.8 224.7 661.2 793.5 645 573.3 672.8 334.8 616 463.2 659.8 325.6 622.3 821.1 627.1 261.4 608 325.6 592.8 197.2 674.8 261.4 658.7 206.3 668.3 499.9 594.3 435.7 554.5 692.6 675.4 729.3 670.6 481.6 600.5 279.7 659.8 261.4 613.6 288.9 611.6 261.4 584 371.5 517.5 233.9 657.8 481.6 618.6 600.9 614 490.8 604.4 665.1 626.4 665.1 645.9 481.6 620.3 839.4 722.6 490.8 595.5 316.4 618.6 344 571.9 243 664.2 233.9 677.7 215.5 709.8 600.9 658.2 738.5 630.1 233.9 669.4 252.2 558.9 298.1 665.8 344 582.4 426.5 647.5 582.5 681.4 252.2 629.7 307.2 681 362.3 626.5 839.4 685.5 298.1 673.2 215.5 727.2 426.5 476.3 215.5 695.2 600.9 649.5 821.1 667.1 509.1 676.7 188 702.2 830.2 696 160.5 745.1 518.3 600.8 197.2 729.6 527.5 645.6 215.5 697.1 463.2 619.8 224.7 654.4 674.2 673.7 600.9 670.4 830.2 740.7 518.3 665.7 178.8 752.9 215.5 646.3 839.4 728.6" marker-start="url(#f10)" marker-mid="url(#f10)" marker-end="url(#f10)"/>
<path d="M261.4 678.9 481.6 641.6 288.9 669.3 169.6 756.1 215.5 685 270.6 665.4 573.3 595.7 646.7 632.5 270.6 580.3 628.4 651.2 197.2 688 344 558.1 169.6 748.1 839.4 737.7 206.3 684.9 188 725.6 279.7 601.4 711 661.5 344 626.2 197.2 703.5 307.2 510.0" marker-start="url(#f11)" marker-mid="url(#f11)" marker-end="url(#f11)"/>
<path d="M821.1 708.9 720.1 666.5 298.1 645.3 288.9 610.1 252.2 627.2 252.2 602.5 160.5 784.4 426.5 593.1 197.2 720.1 160.5 779.4 316.4 619.2 206.3 702.8 545.8 627.3 206.3 670.7 233.9 518.5 729.3 662.2 206.3 689 499.9 654.2" marker-start="url(#f12)" marker-mid="url(#f12)" marker-end="url(#f12)"/>
<path d="M243 577.3 270.6 564.9 637.6 662.6 178.8 745.8 417.4 606.3 426.5 653.3 380.6 566.2 490.8 602.7 233.9 610.9 499.9 582.8 215.5 643.9 628.4 669.3 197.2 678.5 701.8 708.7 233.9 664.6 178.8 734.3 371.5 585 756.8 701.6 811.9 689.7 334.8 670.7 243 674.8 839.4 709.8 389.8 638.6 206.3 695.4 564.2 640.6 169.6 749.6 555 634.6 481.6 576.5 188 736.9 399 546 224.7 655.8 720.1 617.1 206.3 668.8 729.3 617.6 839.4 680.3 555 548.0" marker-start="url(#f13)" marker-mid="url(#f13)" marker-end="url(#f13)"/>
<path d="M371.5 587.1 793.5 639.2 233.9 635.9 756.8 682.2 701.8 677.2 435.7 532 362.3 519.5 839.4 762.1 499.9 631.9 646.7 681 536.6 656.7 243 634.4 224.7 709 646.7 657.7 188 700 334.8 581.4 224.7 670.5 243 559.1 802.7 658.5 206.3 693.3 628.4 613.3 839.4 668.8 444.9 542.2 215.5 689.7 637.6 585.7 206.3 667.8 766 635.7 637.6 667 270.6 680.3 344 528.6 188 748.8 564.2 632.6 417.4 642.8 839.4 677.1 665.1 707.7 830.2 699.9 243 630.3 573.3 579.4" marker-start="url(#f14)" marker-mid="url(#f14)" marker-end="url(#f14)"/>
<path d="M417.4 578.1 316.4 646.3 793.5 707.4 444.9 678.5 224.7 630 756.8 693.7 793.5 677.2 206.3 703.6 279.7 690.4 224.7 670 188 678.8 233.9 649.7 243 653.4 316.4 544 206.3 629.8 766 657.8 288.9 516.4 160.5 779.9 233.9 677.8 160.5 769.3 839.4 712.1 839.4 678.2 509.1 608 536.6 638.1 353.1 652 160.5 783 747.6 642.9 298.1 632.9 325.6 564.9 252.2 584.8 270.6 742.3 619.2 627.1 160.5 751.7 233.9 648.4 435.7 653.0" marker-start="url(#f15)" marker-mid="url(#f15)" marker-end="url(#f15)"/>
<path d="M270.6 722.5 499.9 607.6 756.8 676.1 775.2 629.1 298.1 591.8 839.4 740.9 353.1 595.5 288.9 615.5 197.2 680.4 408.2 623.2 582.5 581.2 188 706.6 674.2 684.2 564.2 691.1 692.6 623.7 178.8 760.9 536.6 594.1 362.3 654.9 555 585 178.8 716.2 288.9 641.4 169.6 746 729.3 589 839.4 706.6 298.1 647.6 839.4 703.9 233.9 694.7 637.6 641.3 839.4 649.2 499.9 672.3 160.5 795.8 169.6 770.6 655.9 601 160.5 770.7" marker-start="url(#f16)" marker-mid="url(#f16)" marker-end="url(#f16)"/>
<path d="M564.2 634.5 261.4 628.1 628.4 656.3 802.7 620.8 839.4 699.6 178.8 729 197.2 688.6 261.4 607.3 591.7 686.8 206.3 646.5 288.9 585.5 481.6 661 325.6 691.1 243 657.1 417.4 630.5 408.2 565.9 399 620.9 564.2 687.6 628.4 564.3 509.1 619.1 178.8 771.0" marker-start="url(#f17)" marker-mid="url(#f17)" marker-end="url(#f17)"/>
<path d="M811.9 649.4 435.7 591.5 215.5 648.5 178.8 745 591.7 610.5 233.9 653.2 408.2 554.7 637.6 600.4 233.9 675.8 619.2 602.6 665.1 593 371.5 556.7 316.4 603.8 233.9 707.9 747.6 601.1 334.8 666.7 344 565.5 426.5 589.3 160.5 739 756.8 692.9 444.9 668.8 270.6 557.7 252.2 651.5 545.8 656.7" marker-start="url(#f18)" marker-mid="url(#f18)" marker-end="url(#f18)"/>
<path d="M811.9 685 298.1 651.8 738.5 685.8 499.9 612.3 527.5 630.3 380.6 607.5 233.9 688.1 178.8 741.5 417.4 641 243 560 738.5 644.4 288.9 632.7 270.6 542.3 490.8 601.3 426.5 629.3 371.5 650.8 334.8 580.5 747.6 619.2 215.5 712.9 362.3 625 316.4 509 435.7 611.8 784.4 650.9 169.6 757.9 307.2 643.2 353.1 719.1 646.7 646.7 481.6 637.6 279.7 662.5 362.3 650.5 490.8 564.9 729.3 673.6 417.4 546.7 637.6 684.5 839.4 713 619.2 668.8" marker-start="url(#f19)" marker-mid="url(#f19)" marker-end="url(#f19)"/>
<path d="M279.7 660 784.4 677 830.2 694.7 307.2 673.4 279.7 557.1 344 647.7 655.9 679.4 197.2 719.2 435.7 609 206.3 694.4 509.1 565.5 472.4 654 270.6 563.1 674.2 651.8 802.7 661.4 784.4 674.7 417.4 589.6 655.9 662.2 243 674.1 408.2 649.7 252.2 686.1 270.6 604.6 252.2 495.4 261.4 681.2 224.7 672.9 628.4 628.2 399 623 802.7 732.4 582.5 663.1 454.1 608.2 582.5 608.9 463.2 580.2 325.6 642.7 206.3 702.3 435.7 618.3 472.4 510.3 270.6 598.9 298.1 570.8 499.9 661 784.4 694.6 261.4 674.2 444.9 576.3 821.1 698.9" marker-start="url(#f20)" marker-mid="url(#f20)" marker-end="url(#f20)"/>
<path d="M307.2 650.7 399 572.4 518.3 611.3 802.7 652.1 325.6 641.4 756.8 625.5 188 721.1 646.7 637.3 353.1 643.1 325.6 574.4 344 625.9 288.9 626.5 463.2 668.9 325.6 620.1 408.2 567.2 261.4 576.2 518.3 645.9 701.8 654.6 545.8 579.6 344 643.4 582.5 627.6 536.6 698.6 674.2 686 380.6 581.8 316.4 624.7 243 560.9 527.5 629.6 344 469.5 371.5 580.9 591.7 636 307.2 607.4 288.9 618.4 600.9 628.2 490.8 616 353.1 569.7 463.2 678.5 738.5 624.4 591.7 624 701.8 642.3 454.1 615.2 444.9 578.5 747.6 621.8 582.5 554.2 362.3 647.2 573.3 607.7 784.4 659.6 555 643.2 711 674.5 665.1 628.9 674.2 685.6 720.1 688 279.7 570.7" marker-start="url(#f21)" marker-mid="url(#f21)" marker-end="url(#f21)"/>
<path d="M518.3 634.1 591.7 548 454.1 576.4 353.1 624.3 628.4 625.7 573.3 654.8 279.7 599.4 261.4 561.4 481.6 580.6 591.7 686.4 518.3 584.1 472.4 621.7 353.1 595.6 224.7 689.8 655.9 674.9 270.6 695.5 591.7 615.8 720.1 693.4 545.8 623.6 591.7 682.3 380.6 616.8 711 624.4 665.1 681.6 444.9 657.3 344 609.4 362.3 600.6 582.5 685.4 224.7 686.4 830.2 657.6 545.8 630.2 380.6 625.7 555 615.7 380.6 625.8" marker-start="url(#f22)" marker-mid="url(#f22)" marker-end="url(#f22)"/>
<path d="M738.5 613 729.3 684.6 444.9 682.4 353.1 636.4 839.4 706.5 582.5 683.2 600.9 670 747.6 697.8 288.9 612.7 545.8 496.5 481.6 546.2 399 642.1 784.4 543.9 674.2 652.9 637.6 679.3 408.2 659 298.1 562.9 362.3 675 518.3 589.9 270.6 626.8 334.8 619.5 536.6 583.4 665.1 593.6 729.3 710.6 261.4 716.2 472.4 570.8 646.7 680.4 380.6 605 454.1 598.7 344 602.6" marker-start="url(#f23)" marker-mid="url(#f23)" marker-end="url(#f23)"/>
<path d="M564.2 669.8 793.5 678 472.4 607.1 545.8 598.9 344 582.8 591.7 645.1 600.9 617.7 729.3 702.1 417.4 640.4 417.4 554.3 454.1 612 316.4 605 444.9 614.5 380.6 603.3 417.4 568.8" marker-start="url(#f24)" marker-mid="url(#f24)" marker-end="url(#f24)"/>
<path d="M692.6 668.9 628.4 585.1 545.8 625.4" marker-start="url(#f25)" marker-mid="url(#f25)" marker-end="url(#f25)"/>
<path d="M766 639.2" marker-start="url(#f26)" marker-mid="url(#f26)" marker-end="url(#f26)"/>
</g>
<path d="M160.1 761.3 163.1 757.1 166.1 752.8 169.1 748.2 172.1 743.4 175.1 738.3 178.1 732.9 181.1 727.0 184.1 720.7 187.1 713.9 190.1 706.7 193.1 699.0 196.1 690.9 199.1 682.4 202.1 673.6 205.1 664.4 208.1 655.0 211.1 645.3 214.1 635.3 217.1 625.2 220.1 614.9 223.1 604.8 226.1 594.7 229.1 584.9 232.1 575.4 235.1 566.4 238.1 557.8 241.1 550.0 244.1 542.9 247.1 536.6 250.1 531.0 253.1 526.0 256.1 521.5 259.1 517.2 262.1 513.2 265.1 509.4 268.1 505.8 271.1 502.4 274.1 499.2 277.1 496.1 280.1 493.2 283.1 490.5 286.1 487.9 289.1 485.5 292.1 483.3 295.1 481.1 298.1 479.1 301.1 477.2 304.1 475.4 307.1 473.7 310.1 472.1 313.1 470.6 316.1 469.2 319.1 467.8 322.1 466.6 325.1 465.3 328.1 464.2 331.1 463.0 334.1 461.9 337.1 460.9 340.1 459.8 343.1 458.8 346.1 457.8 349.1 456.8 352.1 455.8 355.1 454.8 358.1 454.0 361.1 453.1 364.1 452.4 367.1 451.7 370.1 451.1 373.1 450.6 376.1 450.3 379.1 450.0 382.1 449.9 385.1 450.0 388.1 450.2 391.1 450.6 394.1 451.2 397.1 451.9 400.1 452.7 403.1 453.4 406.1 454.2 409.1 454.8 412.1 455.3 415.1 455.5 418.1 455.5 421.1 455.3 424.1 455.0 427.1 454.6 430.1 454.2 433.1 454.0 436.1 453.9 439.1 453.9 442.1 454.0 445.1 454.3 448.1 454.7 451.1 455.1 454.1 455.7 457.1 456.4 460.1 457.1 463.1 457.9 466.1 458.8 469.1 459.7 472.1 460.7 475.1 461.7 478.1 462.8 481.1 463.9 484.1 465.0 487.1 466.1 490.1 467.2 493.1 468.3 496.1 469.4 499.1 470.5 502.1 471.6 505.1 472.6 508.1 473.6 511.1 474.6 514.1 475.5 517.1 476.3 520.1 477.0 523.1 477.6 526.1 478.2 529.1 478.6 532.1 478.8 535.1 478.9 538.1 478.9 541.1 478.8 544.1 478.8 547.1 478.7 550.1 478.8 553.1 479.0 556.1 479.4 559.1 480.0 562.1 480.9 565.1 482.0 568.1 483.4 571.1 484.9 574.1 486.5 577.1 488.2 580.1 490.0 583.1 491.9 586.1 493.7 589.1 495.5 592.1 497.2 595.1 498.9 598.1 500.4 601.1 501.7 604.1 502.9 607.1 503.9 610.1 504.6 613.1 505.1 616.1 505.4 619.1 505.4 622.1 505.1 625.1 504.5 628.1 503.8 631.1 503.1 634.1 502.4 637.1 501.9 640.1 501.6 643.1 501.5 646.1 501.5 649.1 501.8 652.1 502.2 655.1 502.8 658.1 503.6 661.1 504.4 664.1 505.4 667.1 506.5 670.1 507.7 673.1 508.9 676.1 510.3 679.1 511.7 682.1 513.2 685.1 514.7 688.1 516.2 691.1 517.9 694.1 519.5 697.1 521.2 700.1 522.9 703.1 524.6 706.1 526.4 709.1 528.2 712.1 530.0 715.1 531.8 718.1 533.6 721.1 535.4 724.1 537.2 727.1 538.9 730.1 540.7 733.1 542.4 736.1 544.1 739.1 545.8 742.1 547.4 745.1 549.0 748.1 550.6 751.1 552.1 754.1 553.6 757.1 554.9 760.1 556.3 763.1 557.5 766.1 558.7 769.1 559.8 772.1 560.9 775.1 561.9 778.1 562.9 781.1 563.9 784.1 564.9 787.1 565.8 790.1 566.8 793.1 567.8 796.1 568.8 799.1 569.8 802.1 570.9 805.1 572.1 808.1 573.3 811.1 574.6 814.1 576.0 817.1 577.5 820.1 579.2 823.1 581.0 826.1 582.9 829.1 585.1 832.1 587.6 835.1 590.5 838.1 593.8 839.3 595.3" fill="none" stroke="#0c0c85" stroke-width="3" stroke-linecap="round" stroke-linejoin="round"/>
<path d="M160.1 768.3 163.1 765.5 166.1 762.2 169.1 758.4 172.1 754.2 175.1 749.6 178.1 744.5 181.1 738.9 184.1 732.9 187.1 726.5 190.1 719.7 193.1 712.8 196.1 705.7 199.1 698.7 202.1 691.8 205.1 685.1 208.1 678.8 211.1 672.9 214.1 667.4 217.1 662.3 220.1 657.5 223.1 653.1 226.1 649.0 229.1 645.2 232.1 641.8 235.1 638.6 238.1 635.7 241.1 633.0 244.1 630.6 247.1 628.5 250.1 626.5 253.1 624.8 256.1 623.2 259.1 621.8 262.1 620.6 265.1 619.5 268.1 618.6 271.1 617.8 274.1 617.1 277.1 616.5 280.1 615.9 283.1 615.5 286.1 615.1 289.1 614.7 292.1 614.4 295.1 614.1 298.1 613.8 301.1 613.4 304.1 613.1 307.1 612.8 310.1 612.4 313.1 611.9 316.1 611.5 319.1 610.9 322.1 610.2 325.1 609.5 328.1 608.7 331.1 607.8 334.1 606.8 337.1 605.7 340.1 604.6 343.1 603.5 346.1 602.4 349.1 601.3 352.1 600.2 355.1 599.2 358.1 598.3 361.1 597.4 364.1 596.7 367.1 596.1 370.1 595.6 373.1 595.3 376.1 595.1 379.1 595.1 382.1 595.3 385.1 595.5 388.1 595.9 391.1 596.4 394.1 596.9 397.1 597.4 400.1 598.0 403.1 598.6 406.1 599.2 409.1 599.8 412.1 600.3 415.1 600.8 418.1 601.2 421.1 601.5 424.1 601.8 427.1 602.0 430.1 602.3 433.1 602.4 436.1 602.6 439.1 602.7 442.1 602.9 445.1 603.0 448.1 603.2 451.1 603.4 454.1 603.6 457.1 603.9 460.1 604.2 463.1 604.5 466.1 604.9 469.1 605.3 472.1 605.7 475.1 606.2 478.1 606.6 481.1 607.0 484.1 607.3 487.1 607.6 490.1 607.8 493.1 608.0 496.1 608.0 499.1 608.0 502.1 607.8 505.1 607.5 508.1 607.2 511.1 606.8 514.1 606.3 517.1 605.9 520.1 605.5 523.1 605.1 526.1 604.7 529.1 604.5 532.1 604.4 535.1 604.4 538.1 604.5 541.1 604.8 544.1 605.4 547.1 606.1 550.1 607.1 553.1 608.3 556.1 609.7 559.1 611.2 562.1 612.8 565.1 614.5 568.1 616.1 571.1 617.7 574.1 619.2 577.1 620.5 580.1 621.7 583.1 622.7 586.1 623.4 589.1 623.7 592.1 623.8 595.1 623.7 598.1 623.4 601.1 623.0 604.1 622.5 607.1 622.1 610.1 621.7 613.1 621.4 616.1 621.3 619.1 621.3 622.1 621.5 625.1 621.8 628.1 622.3 631.1 623.0 634.1 623.8 637.1 624.8 640.1 625.8 643.1 627.0 646.1 628.2 649.1 629.3 652.1 630.4 655.1 631.2 658.1 631.9 661.1 632.4 664.1 632.7 667.1 632.9 670.1 633.1 673.1 633.3 676.1 633.6 679.1 633.9 682.1 634.3 685.1 634.8 688.1 635.3 691.1 635.9 694.1 636.5 697.1 637.2 700.1 637.9 703.1 638.7 706.1 639.5 709.1 640.3 712.1 641.2 715.1 642.1 718.1 643.0 721.1 643.9 724.1 644.9 727.1 645.9 730.1 646.9 733.1 647.8 736.1 648.8 739.1 649.8 742.1 650.8 745.1 651.8 748.1 652.8 751.1 653.8 754.1 654.7 757.1 655.6 760.1 656.5 763.1 657.4 766.1 658.3 769.1 659.1 772.1 660.0 775.1 660.9 778.1 661.7 781.1 662.7 784.1 663.6 787.1 664.7 790.1 665.7 793.1 666.9 796.1 668.1 799.1 669.5 802.1 670.9 805.1 672.5 808.1 674.1 811.1 676.0 814.1 677.9 817.1 680.0 820.1 682.3 823.1 684.8 826.1 687.4 829.1 690.3 832.1 693.3 835.1 696.6 838.1 700.1 839.4 701.7" fill="none" stroke="#0a5a0a" stroke-width="3" stroke-linecap="round" stroke-linejoin="round"/>
<rect x="120" y="120" width="842.5" height="754.7" fill="none" stroke="#1a1a1a" stroke-width="1.9"/>
<g stroke="#1a1a1a" stroke-width="1.9">
<path d="M104.5 847.1H120M104.5 647.4H120M104.5 447.6H120M104.5 247.9H120"/>
<path d="M288.9 874.7V889.7M472.4 874.7V889.7M655.9 874.7V889.7M839.4 874.7V889.7"/>
</g>
<g font-size="24.5" fill="#000" text-anchor="middle">
<text transform="translate(288.9 927.6) scale(0.99 1.06)">20</text>
<text transform="translate(472.4 927.6) scale(0.99 1.06)">40</text>
<text transform="translate(655.9 927.6) scale(0.99 1.06)">60</text>
<text transform="translate(839.4 927.6) scale(0.99 1.06)">80</text>
<text transform="translate(85.5 847.1) rotate(-90) scale(0.99 1.06)">0</text>
<text transform="translate(85.5 647.4) rotate(-90) scale(0.99 1.06)">50</text>
<text transform="translate(85.5 447.6) rotate(-90) scale(0.99 1.06)">100</text>
<text transform="translate(85.5 247.9) rotate(-90) scale(0.99 1.06)">150</text>
<text transform="translate(540.6 986) scale(0.99 1.06)">Age (years)</text>
<text transform="translate(26.5 498) rotate(-90) scale(0.99 1.06)">Combinded grip strength (kg)</text>
</g>
<g font-size="24.5">
<text transform="translate(857.8 596) scale(0.985 1.06)" fill="#1864b4">Males</text>
<text transform="translate(857.8 715.8) scale(0.97 1.07)" fill="#a9da88">Females</text>
</g>
<circle cx="426.6" cy="169.4" r="3.2" fill="#22c84a" stroke="#1f6fc0" stroke-width="1.2"/>
<text x="452" y="175.8" font-size="21" letter-spacing="0.45" fill="#1a1a1a">la fitgirl du topic</text>
</svg>
</body></html>
